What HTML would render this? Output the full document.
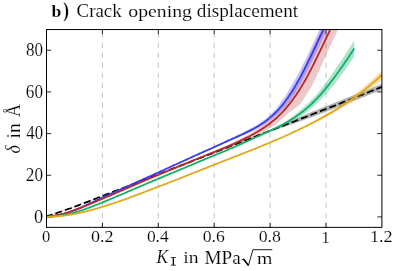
<!DOCTYPE html>
<html><head><meta charset="utf-8"><style>
html,body{margin:0;padding:0;background:#fff;}
body{width:396px;height:271px;overflow:hidden;position:relative;font-family:"Liberation Serif",serif;color:#000;}
svg{position:absolute;left:0;top:0;will-change:transform;opacity:0.999;}
text{font-family:"Liberation Serif",serif;fill:#000;font-kerning:none;stroke:#fff;stroke-width:0.8px;}
</style></head><body>
<svg width="396" height="271" viewBox="0 0 396 271">
<defs><clipPath id="c"><rect x="46.5" y="29.55" width="335.4" height="197.79999999999998"/></clipPath></defs>
<g stroke="#c2c2c2" stroke-width="1" stroke-dasharray="5.1,4.9" stroke-dashoffset="6.8" fill="none">
<line x1="102.4" y1="29.55" x2="102.4" y2="227.35"/>
<line x1="158.3" y1="29.55" x2="158.3" y2="227.35"/>
<line x1="214.2" y1="29.55" x2="214.2" y2="227.35"/>
<line x1="270.1" y1="29.55" x2="270.1" y2="227.35"/>
<line x1="326.0" y1="29.55" x2="326.0" y2="227.35"/>
</g>
<g stroke="#000" stroke-width="0.85">
<line x1="102.4" y1="227.35" x2="102.4" y2="222.75"/><line x1="102.4" y1="29.55" x2="102.4" y2="34.15"/>
<line x1="158.3" y1="227.35" x2="158.3" y2="222.75"/><line x1="158.3" y1="29.55" x2="158.3" y2="34.15"/>
<line x1="214.2" y1="227.35" x2="214.2" y2="222.75"/><line x1="214.2" y1="29.55" x2="214.2" y2="34.15"/>
<line x1="270.1" y1="227.35" x2="270.1" y2="222.75"/><line x1="270.1" y1="29.55" x2="270.1" y2="34.15"/>
<line x1="326.0" y1="227.35" x2="326.0" y2="222.75"/><line x1="326.0" y1="29.55" x2="326.0" y2="34.15"/>
<line x1="46.5" y1="216.90" x2="51.1" y2="216.90"/><line x1="381.9" y1="216.90" x2="377.29999999999995" y2="216.90"/>
<line x1="46.5" y1="175.24" x2="51.1" y2="175.24"/><line x1="381.9" y1="175.24" x2="377.29999999999995" y2="175.24"/>
<line x1="46.5" y1="133.58" x2="51.1" y2="133.58"/><line x1="381.9" y1="133.58" x2="377.29999999999995" y2="133.58"/>
<line x1="46.5" y1="91.92" x2="51.1" y2="91.92"/><line x1="381.9" y1="91.92" x2="377.29999999999995" y2="91.92"/>
<line x1="46.5" y1="50.26" x2="51.1" y2="50.26"/><line x1="381.9" y1="50.26" x2="377.29999999999995" y2="50.26"/>
</g>
<g clip-path="url(#c)" fill="none" stroke-linejoin="round" stroke-linecap="butt">
<path d="M46.6,216.1 L48.7,215.4 L50.8,214.7 L52.9,214.0 L55.1,213.3 L57.2,212.6 L59.3,211.9 L61.4,211.2 L63.5,210.4 L65.6,209.7 L67.8,208.9 L69.9,208.2 L72.0,207.4 L74.1,206.6 L76.2,205.8 L78.3,205.0 L80.4,204.2 L82.6,203.4 L84.7,202.6 L86.8,201.8 L88.9,201.0 L91.0,200.2 L93.1,199.3 L95.2,198.5 L97.4,197.7 L99.5,196.9 L101.6,196.0 L103.7,195.2 L105.8,194.4 L107.9,193.6 L110.1,192.8 L112.2,191.9 L114.3,191.1 L116.4,190.3 L118.5,189.5 L120.6,188.6 L122.7,187.8 L124.9,187.0 L127.0,186.2 L129.1,185.4 L131.2,184.5 L133.3,183.7 L135.4,182.9 L137.5,182.1 L139.7,181.2 L141.8,180.4 L143.9,179.6 L146.0,178.8 L148.1,177.9 L150.2,177.1 L152.4,176.3 L154.5,175.5 L156.6,174.7 L158.7,173.8 L160.8,173.0 L162.9,172.2 L165.0,171.4 L167.2,170.5 L169.3,169.7 L171.4,168.9 L173.5,168.1 L175.6,167.2 L177.7,166.4 L179.9,165.6 L182.0,164.8 L184.1,164.0 L186.2,163.1 L188.3,162.3 L190.4,161.5 L192.5,160.7 L194.7,159.8 L196.8,159.0 L198.9,158.2 L201.0,157.4 L203.1,156.5 L205.2,155.7 L207.3,154.9 L209.5,154.1 L211.6,153.3 L213.7,152.4 L215.8,151.6 L217.9,150.8 L220.0,150.0 L222.2,149.1 L224.3,148.3 L226.4,147.5 L228.5,146.7 L230.6,145.8 L232.7,145.0 L234.8,144.1 L237.0,143.3 L239.1,142.4 L241.2,141.5 L243.3,140.7 L245.4,139.8 L247.5,139.0 L249.6,138.1 L251.8,137.2 L253.9,136.4 L256.0,135.5 L258.1,134.7 L260.2,133.8 L262.3,132.9 L264.5,132.1 L266.6,131.2 L268.7,130.4 L270.8,129.5 L272.9,128.6 L275.0,127.6 L277.1,126.7 L279.3,125.8 L281.4,124.9 L283.5,124.0 L285.6,123.0 L287.7,122.1 L289.8,121.2 L292.0,120.3 L294.1,119.4 L296.2,118.5 L298.3,117.6 L300.4,116.7 L302.5,115.8 L304.6,114.9 L306.8,113.9 L308.9,113.0 L311.0,112.2 L313.1,111.3 L315.2,110.5 L317.3,109.7 L319.4,108.8 L321.6,108.0 L323.7,107.1 L325.8,106.3 L327.9,105.4 L330.0,104.6 L332.1,103.8 L334.3,102.9 L336.4,102.1 L338.5,101.2 L340.6,100.4 L342.7,99.5 L344.8,98.7 L346.9,97.8 L349.1,97.0 L351.2,96.2 L353.3,95.3 L355.4,94.5 L357.5,93.6 L359.6,92.8 L361.7,91.9 L363.9,91.1 L366.0,90.2 L368.1,89.4 L370.2,88.5 L372.3,87.7 L374.4,86.8 L376.6,86.0 L378.7,85.1 L380.8,84.3 L382.9,83.4 L382.9,89.4 L380.8,90.3 L378.7,91.1 L376.6,92.0 L374.4,92.8 L372.3,93.6 L370.2,94.5 L368.1,95.3 L366.0,96.2 L363.9,97.0 L361.7,97.8 L359.6,98.7 L357.5,99.5 L355.4,100.3 L353.3,101.2 L351.2,102.0 L349.1,102.8 L346.9,103.7 L344.8,104.5 L342.7,105.3 L340.6,106.2 L338.5,107.0 L336.4,107.8 L334.3,108.6 L332.1,109.5 L330.0,110.3 L327.9,111.1 L325.8,111.9 L323.7,112.7 L321.6,113.5 L319.4,114.3 L317.3,115.1 L315.2,116.0 L313.1,116.8 L311.0,117.6 L308.9,118.3 L306.8,119.1 L304.6,119.8 L302.5,120.6 L300.4,121.3 L298.3,122.0 L296.2,122.8 L294.1,123.5 L292.0,124.3 L289.8,125.0 L287.7,125.7 L285.6,126.5 L283.5,127.2 L281.4,127.9 L279.3,128.6 L277.1,129.4 L275.0,130.1 L272.9,130.8 L270.8,131.5 L268.7,132.3 L266.6,133.1 L264.5,133.9 L262.3,134.7 L260.2,135.5 L258.1,136.2 L256.0,137.0 L253.9,137.8 L251.8,138.6 L249.6,139.4 L247.5,140.2 L245.4,141.0 L243.3,141.7 L241.2,142.5 L239.1,143.3 L237.0,144.1 L234.8,144.9 L232.7,145.7 L230.6,146.5 L228.5,147.3 L226.4,148.1 L224.3,148.9 L222.2,149.7 L220.0,150.6 L217.9,151.4 L215.8,152.2 L213.7,153.0 L211.6,153.9 L209.5,154.7 L207.3,155.5 L205.2,156.3 L203.1,157.1 L201.0,158.0 L198.9,158.8 L196.8,159.6 L194.7,160.4 L192.5,161.3 L190.4,162.1 L188.3,162.9 L186.2,163.7 L184.1,164.6 L182.0,165.4 L179.9,166.2 L177.7,167.0 L175.6,167.8 L173.5,168.7 L171.4,169.5 L169.3,170.3 L167.2,171.1 L165.0,172.0 L162.9,172.8 L160.8,173.6 L158.7,174.4 L156.6,175.3 L154.5,176.1 L152.4,176.9 L150.2,177.7 L148.1,178.5 L146.0,179.4 L143.9,180.2 L141.8,181.0 L139.7,181.8 L137.5,182.7 L135.4,183.5 L133.3,184.3 L131.2,185.1 L129.1,186.0 L127.0,186.8 L124.9,187.6 L122.7,188.4 L120.6,189.2 L118.5,190.1 L116.4,190.9 L114.3,191.7 L112.2,192.5 L110.1,193.4 L107.9,194.2 L105.8,195.0 L103.7,195.8 L101.6,196.6 L99.5,197.5 L97.4,198.3 L95.2,199.1 L93.1,199.9 L91.0,200.8 L88.9,201.6 L86.8,202.4 L84.7,203.2 L82.6,204.0 L80.4,204.8 L78.3,205.6 L76.2,206.4 L74.1,207.2 L72.0,208.0 L69.9,208.8 L67.8,209.5 L65.6,210.3 L63.5,211.0 L61.4,211.8 L59.3,212.5 L57.2,213.2 L55.1,213.9 L52.9,214.6 L50.8,215.3 L48.7,216.0 L46.6,216.7Z" fill="#000" fill-opacity="0.3" stroke="none"/>
<path d="M46.6,216.4 L48.7,215.7 L50.8,215.0 L52.9,214.3 L55.1,213.6 L57.2,212.9 L59.3,212.2 L61.4,211.5 L63.5,210.7 L65.6,210.0 L67.8,209.2 L69.9,208.5 L72.0,207.7 L74.1,206.9 L76.2,206.1 L78.3,205.3 L80.4,204.5 L82.6,203.7 L84.7,202.9 L86.8,202.1 L88.9,201.3 L91.0,200.5 L93.1,199.6 L95.2,198.8 L97.4,198.0 L99.5,197.2 L101.6,196.3 L103.7,195.5 L105.8,194.7 L107.9,193.9 L110.1,193.1 L112.2,192.2 L114.3,191.4 L116.4,190.6 L118.5,189.8 L120.6,188.9 L122.7,188.1 L124.9,187.3 L127.0,186.5 L129.1,185.7 L131.2,184.8 L133.3,184.0 L135.4,183.2 L137.5,182.4 L139.7,181.5 L141.8,180.7 L143.9,179.9 L146.0,179.1 L148.1,178.2 L150.2,177.4 L152.4,176.6 L154.5,175.8 L156.6,175.0 L158.7,174.1 L160.8,173.3 L162.9,172.5 L165.0,171.7 L167.2,170.8 L169.3,170.0 L171.4,169.2 L173.5,168.4 L175.6,167.5 L177.7,166.7 L179.9,165.9 L182.0,165.1 L184.1,164.3 L186.2,163.4 L188.3,162.6 L190.4,161.8 L192.5,161.0 L194.7,160.1 L196.8,159.3 L198.9,158.5 L201.0,157.7 L203.1,156.8 L205.2,156.0 L207.3,155.2 L209.5,154.4 L211.6,153.6 L213.7,152.7 L215.8,151.9 L217.9,151.1 L220.0,150.3 L222.2,149.4 L224.3,148.6 L226.4,147.8 L228.5,147.0 L230.6,146.1 L232.7,145.3 L234.8,144.5 L237.0,143.7 L239.1,142.9 L241.2,142.0 L243.3,141.2 L245.4,140.4 L247.5,139.6 L249.6,138.7 L251.8,137.9 L253.9,137.1 L256.0,136.3 L258.1,135.4 L260.2,134.6 L262.3,133.8 L264.5,133.0 L266.6,132.2 L268.7,131.3 L270.8,130.5 L272.9,129.7 L275.0,128.9 L277.1,128.0 L279.3,127.2 L281.4,126.4 L283.5,125.6 L285.6,124.7 L287.7,123.9 L289.8,123.1 L292.0,122.3 L294.1,121.5 L296.2,120.6 L298.3,119.8 L300.4,119.0 L302.5,118.2 L304.6,117.3 L306.8,116.5 L308.9,115.7 L311.0,114.9 L313.1,114.0 L315.2,113.2 L317.3,112.4 L319.4,111.6 L321.6,110.7 L323.7,109.9 L325.8,109.1 L327.9,108.3 L330.0,107.4 L332.1,106.6 L334.3,105.8 L336.4,104.9 L338.5,104.1 L340.6,103.3 L342.7,102.4 L344.8,101.6 L346.9,100.8 L349.1,99.9 L351.2,99.1 L353.3,98.2 L355.4,97.4 L357.5,96.6 L359.6,95.7 L361.7,94.9 L363.9,94.0 L366.0,93.2 L368.1,92.4 L370.2,91.5 L372.3,90.7 L374.4,89.8 L376.6,89.0 L378.7,88.1 L380.8,87.3 L382.9,86.4" stroke="#000" stroke-width="1.8" stroke-dasharray="7.1,3.03" stroke-dashoffset="0.93"/>
<path d="M46.6,216.8 L47.4,216.8 L48.3,216.8 L49.1,216.7 L50.0,216.7 L50.8,216.7 L51.7,216.7 L52.5,216.6 L53.3,216.6 L54.2,216.5 L55.0,216.5 L55.9,216.4 L56.7,216.3 L57.6,216.3 L58.4,216.2 L59.2,216.1 L60.1,216.0 L60.9,216.0 L61.8,215.9 L62.6,215.8 L63.5,215.7 L64.3,215.6 L65.1,215.5 L66.0,215.3 L66.8,215.2 L67.7,215.1 L68.5,215.0 L69.4,214.8 L70.2,214.7 L71.1,214.6 L71.9,214.4 L72.7,214.3 L73.6,214.1 L74.4,213.9 L75.3,213.8 L76.1,213.6 L77.0,213.4 L77.8,213.3 L78.6,213.1 L79.5,212.9 L80.3,212.7 L81.2,212.5 L82.0,212.3 L82.9,212.1 L83.7,211.9 L84.5,211.7 L85.4,211.5 L86.2,211.3 L87.1,211.1 L87.9,210.9 L88.8,210.7 L89.6,210.5 L90.4,210.2 L91.3,210.0 L92.1,209.8 L93.0,209.6 L93.8,209.3 L94.7,209.1 L95.5,208.9 L96.3,208.6 L97.2,208.4 L98.0,208.1 L98.9,207.9 L99.7,207.6 L100.6,207.4 L101.4,207.1 L102.2,206.9 L103.1,206.6 L103.9,206.4 L104.8,206.1 L105.6,205.8 L106.5,205.6 L107.3,205.3 L108.1,205.0 L109.0,204.8 L109.8,204.5 L110.7,204.2 L111.5,204.0 L112.4,203.7 L113.2,203.4 L114.0,203.1 L114.9,202.8 L115.7,202.6 L116.6,202.3 L117.4,202.0 L118.3,201.7 L119.1,201.4 L120.0,201.1 L120.8,200.8 L121.6,200.5 L122.5,200.2 L123.3,199.9 L124.2,199.6 L125.0,199.3 L125.9,199.0 L126.7,198.7 L127.5,198.4 L128.4,198.1 L129.2,197.8 L130.1,197.5 L130.9,197.1 L131.8,196.8 L132.6,196.5 L133.4,196.2 L134.3,195.9 L135.1,195.6 L136.0,195.2 L136.8,194.9 L137.7,194.6 L138.5,194.3 L139.3,193.9 L140.2,193.6 L141.0,193.3 L141.9,193.0 L142.7,192.6 L143.6,192.3 L144.4,192.0 L145.2,191.7 L146.1,191.3 L146.9,191.0 L147.8,190.7 L148.6,190.4 L149.5,190.1 L150.3,189.7 L151.1,189.4 L152.0,189.1 L152.8,188.8 L153.7,188.4 L154.5,188.1 L155.4,187.8 L156.2,187.5 L157.0,187.1 L157.9,186.8 L158.7,186.5 L159.6,186.2 L160.4,185.9 L161.3,185.5 L162.1,185.2 L162.9,184.9 L163.8,184.6 L164.6,184.3 L165.5,183.9 L166.3,183.6 L167.2,183.3 L168.0,183.0 L168.9,182.6 L169.7,182.3 L170.5,182.0 L171.4,181.7 L172.2,181.4 L173.1,181.0 L173.9,180.7 L174.8,180.4 L175.6,180.0 L176.4,179.7 L177.3,179.4 L178.1,179.1 L179.0,178.7 L179.8,178.4 L180.7,178.1 L181.5,177.7 L182.3,177.4 L183.2,177.1 L184.0,176.7 L184.9,176.4 L185.7,176.1 L186.6,175.7 L187.4,175.4 L188.2,175.0 L189.1,174.7 L189.9,174.4 L190.8,174.0 L191.6,173.7 L192.5,173.4 L193.3,173.0 L194.1,172.7 L195.0,172.3 L195.8,172.0 L196.7,171.7 L197.5,171.3 L198.4,171.0 L199.2,170.7 L200.0,170.3 L200.9,170.0 L201.7,169.6 L202.6,169.3 L203.4,169.0 L204.3,168.6 L205.1,168.3 L205.9,168.0 L206.8,167.6 L207.6,167.3 L208.5,167.0 L209.3,166.6 L210.2,166.3 L211.0,166.0 L211.8,165.6 L212.7,165.3 L213.5,165.0 L214.4,164.7 L215.2,164.3 L216.1,164.0 L216.9,163.7 L217.8,163.3 L218.6,163.0 L219.4,162.7 L220.3,162.4 L221.1,162.0 L222.0,161.7 L222.8,161.4 L223.7,161.0 L224.5,160.7 L225.3,160.4 L226.2,160.1 L227.0,159.7 L227.9,159.4 L228.7,159.1 L229.6,158.7 L230.4,158.4 L231.2,158.1 L232.1,157.8 L232.9,157.4 L233.8,157.1 L234.6,156.8 L235.5,156.4 L236.3,156.1 L237.1,155.8 L238.0,155.4 L238.8,155.1 L239.7,154.8 L240.5,154.4 L241.4,154.1 L242.2,153.8 L243.0,153.4 L243.9,153.1 L244.7,152.8 L245.6,152.4 L246.4,152.1 L247.3,151.8 L248.1,151.4 L248.9,151.1 L249.8,150.8 L250.6,150.4 L251.5,150.1 L252.3,149.7 L253.2,149.4 L254.0,149.1 L254.8,148.7 L255.7,148.4 L256.5,148.0 L257.4,147.7 L258.2,147.4 L259.1,147.0 L259.9,146.7 L260.7,146.3 L261.6,146.0 L262.4,145.6 L263.3,145.3 L264.1,145.0 L265.0,144.6 L265.8,144.3 L266.7,143.9 L267.5,143.6 L268.3,143.2 L269.2,142.9 L270.0,142.5 L270.9,142.2 L271.7,141.8 L272.6,141.5 L273.4,141.1 L274.2,140.7 L275.1,140.4 L275.9,140.0 L276.8,139.7 L277.6,139.3 L278.5,138.9 L279.3,138.6 L280.1,138.2 L281.0,137.8 L281.8,137.5 L282.7,137.1 L283.5,136.7 L284.4,136.4 L285.2,136.0 L286.0,135.6 L286.9,135.2 L287.7,134.8 L288.6,134.5 L289.4,134.1 L290.3,133.7 L291.1,133.3 L291.9,132.8 L292.8,132.4 L293.6,132.0 L294.5,131.6 L295.3,131.1 L296.2,130.7 L297.0,130.3 L297.8,129.8 L298.7,129.4 L299.5,129.0 L300.4,128.5 L301.2,128.1 L302.1,127.7 L302.9,127.2 L303.7,126.8 L304.6,126.3 L305.4,125.9 L306.3,125.4 L307.1,125.0 L308.0,124.5 L308.8,124.0 L309.6,123.6 L310.5,123.1 L311.3,122.7 L312.2,122.2 L313.0,121.7 L313.9,121.2 L314.7,120.8 L315.6,120.3 L316.4,119.8 L317.2,119.3 L318.1,118.9 L318.9,118.4 L319.8,117.9 L320.6,117.4 L321.5,116.9 L322.3,116.4 L323.1,115.9 L324.0,115.4 L324.8,114.9 L325.7,114.4 L326.5,113.9 L327.4,113.4 L328.2,112.8 L329.0,112.3 L329.9,111.8 L330.7,111.3 L331.6,110.7 L332.4,110.2 L333.3,109.7 L334.1,109.1 L334.9,108.6 L335.8,108.0 L336.6,107.5 L337.5,106.9 L338.3,106.3 L339.2,105.8 L340.0,105.2 L340.8,104.6 L341.7,104.0 L342.5,103.5 L343.4,102.9 L344.2,102.3 L345.1,101.7 L345.9,101.1 L346.7,100.4 L347.6,99.8 L348.4,99.2 L349.3,98.6 L350.1,98.0 L351.0,97.3 L351.8,96.7 L352.6,96.0 L353.5,95.4 L354.3,94.7 L355.2,94.1 L356.0,93.4 L356.9,92.7 L357.7,92.0 L358.5,91.4 L359.4,90.7 L360.2,90.0 L361.1,89.3 L361.9,88.6 L362.8,87.9 L363.6,87.1 L364.5,86.4 L365.3,85.7 L366.1,85.0 L367.0,84.2 L367.8,83.5 L368.7,82.7 L369.5,82.0 L370.4,81.2 L371.2,80.4 L372.0,79.7 L372.9,78.9 L373.7,78.1 L374.6,77.3 L375.4,76.5 L376.3,75.7 L377.1,74.9 L377.9,74.1 L378.8,73.3 L379.6,72.5 L380.5,71.7 L381.3,70.8 L382.2,70.0 L383.0,69.2 L383.0,78.7 L382.2,79.4 L381.3,80.1 L380.5,80.8 L379.6,81.5 L378.8,82.2 L377.9,82.9 L377.1,83.6 L376.3,84.3 L375.4,84.9 L374.6,85.6 L373.7,86.3 L372.9,86.9 L372.0,87.6 L371.2,88.3 L370.4,88.9 L369.5,89.5 L368.7,90.2 L367.8,90.8 L367.0,91.4 L366.1,92.1 L365.3,92.7 L364.5,93.3 L363.6,93.9 L362.8,94.5 L361.9,95.1 L361.1,95.7 L360.2,96.3 L359.4,96.9 L358.5,97.5 L357.7,98.1 L356.9,98.6 L356.0,99.2 L355.2,99.8 L354.3,100.3 L353.5,100.9 L352.6,101.4 L351.8,102.0 L351.0,102.5 L350.1,103.1 L349.3,103.6 L348.4,104.1 L347.6,104.7 L346.7,105.2 L345.9,105.7 L345.1,106.2 L344.2,106.7 L343.4,107.2 L342.5,107.7 L341.7,108.2 L340.8,108.7 L340.0,109.2 L339.2,109.7 L338.3,110.2 L337.5,110.7 L336.6,111.2 L335.8,111.7 L334.9,112.1 L334.1,112.6 L333.3,113.1 L332.4,113.5 L331.6,114.0 L330.7,114.4 L329.9,114.9 L329.0,115.4 L328.2,115.8 L327.4,116.2 L326.5,116.7 L325.7,117.1 L324.8,117.6 L324.0,118.0 L323.1,118.4 L322.3,118.9 L321.5,119.3 L320.6,119.7 L319.8,120.1 L318.9,120.6 L318.1,121.0 L317.2,121.4 L316.4,121.8 L315.6,122.2 L314.7,122.6 L313.9,123.0 L313.0,123.4 L312.2,123.8 L311.3,124.3 L310.5,124.7 L309.6,125.0 L308.8,125.4 L308.0,125.8 L307.1,126.2 L306.3,126.6 L305.4,127.0 L304.6,127.4 L303.7,127.8 L302.9,128.2 L302.1,128.5 L301.2,128.9 L300.4,129.3 L299.5,129.7 L298.7,130.1 L297.8,130.4 L297.0,130.8 L296.2,131.2 L295.3,131.5 L294.5,131.9 L293.6,132.3 L292.8,132.6 L291.9,133.0 L291.1,133.3 L290.3,133.7 L289.4,134.1 L288.6,134.5 L287.7,134.8 L286.9,135.2 L286.0,135.6 L285.2,136.0 L284.4,136.4 L283.5,136.7 L282.7,137.1 L281.8,137.5 L281.0,137.8 L280.1,138.2 L279.3,138.6 L278.5,138.9 L277.6,139.3 L276.8,139.7 L275.9,140.0 L275.1,140.4 L274.2,140.7 L273.4,141.1 L272.6,141.5 L271.7,141.8 L270.9,142.2 L270.0,142.5 L269.2,142.9 L268.3,143.2 L267.5,143.6 L266.7,143.9 L265.8,144.3 L265.0,144.6 L264.1,145.0 L263.3,145.3 L262.4,145.6 L261.6,146.0 L260.7,146.3 L259.9,146.7 L259.1,147.0 L258.2,147.4 L257.4,147.7 L256.5,148.0 L255.7,148.4 L254.8,148.7 L254.0,149.1 L253.2,149.4 L252.3,149.7 L251.5,150.1 L250.6,150.4 L249.8,150.8 L248.9,151.1 L248.1,151.4 L247.3,151.8 L246.4,152.1 L245.6,152.4 L244.7,152.8 L243.9,153.1 L243.0,153.4 L242.2,153.8 L241.4,154.1 L240.5,154.4 L239.7,154.8 L238.8,155.1 L238.0,155.4 L237.1,155.8 L236.3,156.1 L235.5,156.4 L234.6,156.8 L233.8,157.1 L232.9,157.4 L232.1,157.8 L231.2,158.1 L230.4,158.4 L229.6,158.7 L228.7,159.1 L227.9,159.4 L227.0,159.7 L226.2,160.1 L225.3,160.4 L224.5,160.7 L223.7,161.0 L222.8,161.4 L222.0,161.7 L221.1,162.0 L220.3,162.4 L219.4,162.7 L218.6,163.0 L217.8,163.3 L216.9,163.7 L216.1,164.0 L215.2,164.3 L214.4,164.7 L213.5,165.0 L212.7,165.3 L211.8,165.6 L211.0,166.0 L210.2,166.3 L209.3,166.6 L208.5,167.0 L207.6,167.3 L206.8,167.6 L205.9,168.0 L205.1,168.3 L204.3,168.6 L203.4,169.0 L202.6,169.3 L201.7,169.6 L200.9,170.0 L200.0,170.3 L199.2,170.7 L198.4,171.0 L197.5,171.3 L196.7,171.7 L195.8,172.0 L195.0,172.3 L194.1,172.7 L193.3,173.0 L192.5,173.4 L191.6,173.7 L190.8,174.0 L189.9,174.4 L189.1,174.7 L188.2,175.0 L187.4,175.4 L186.6,175.7 L185.7,176.1 L184.9,176.4 L184.0,176.7 L183.2,177.1 L182.3,177.4 L181.5,177.7 L180.7,178.1 L179.8,178.4 L179.0,178.7 L178.1,179.1 L177.3,179.4 L176.4,179.7 L175.6,180.0 L174.8,180.4 L173.9,180.7 L173.1,181.0 L172.2,181.4 L171.4,181.7 L170.5,182.0 L169.7,182.3 L168.9,182.6 L168.0,183.0 L167.2,183.3 L166.3,183.6 L165.5,183.9 L164.6,184.3 L163.8,184.6 L162.9,184.9 L162.1,185.2 L161.3,185.5 L160.4,185.9 L159.6,186.2 L158.7,186.5 L157.9,186.8 L157.0,187.1 L156.2,187.5 L155.4,187.8 L154.5,188.1 L153.7,188.4 L152.8,188.8 L152.0,189.1 L151.1,189.4 L150.3,189.7 L149.5,190.1 L148.6,190.4 L147.8,190.7 L146.9,191.0 L146.1,191.3 L145.2,191.7 L144.4,192.0 L143.6,192.3 L142.7,192.6 L141.9,193.0 L141.0,193.3 L140.2,193.6 L139.3,193.9 L138.5,194.3 L137.7,194.6 L136.8,194.9 L136.0,195.2 L135.1,195.6 L134.3,195.9 L133.4,196.2 L132.6,196.5 L131.8,196.8 L130.9,197.1 L130.1,197.5 L129.2,197.8 L128.4,198.1 L127.5,198.4 L126.7,198.7 L125.9,199.0 L125.0,199.3 L124.2,199.6 L123.3,199.9 L122.5,200.2 L121.6,200.5 L120.8,200.8 L120.0,201.1 L119.1,201.4 L118.3,201.7 L117.4,202.0 L116.6,202.3 L115.7,202.6 L114.9,202.8 L114.0,203.1 L113.2,203.4 L112.4,203.7 L111.5,204.0 L110.7,204.2 L109.8,204.5 L109.0,204.8 L108.1,205.0 L107.3,205.3 L106.5,205.6 L105.6,205.8 L104.8,206.1 L103.9,206.4 L103.1,206.6 L102.2,206.9 L101.4,207.1 L100.6,207.4 L99.7,207.6 L98.9,207.9 L98.0,208.1 L97.2,208.4 L96.3,208.6 L95.5,208.9 L94.7,209.1 L93.8,209.3 L93.0,209.6 L92.1,209.8 L91.3,210.0 L90.4,210.2 L89.6,210.5 L88.8,210.7 L87.9,210.9 L87.1,211.1 L86.2,211.3 L85.4,211.5 L84.5,211.7 L83.7,211.9 L82.9,212.1 L82.0,212.3 L81.2,212.5 L80.3,212.7 L79.5,212.9 L78.6,213.1 L77.8,213.3 L77.0,213.4 L76.1,213.6 L75.3,213.8 L74.4,213.9 L73.6,214.1 L72.7,214.3 L71.9,214.4 L71.1,214.6 L70.2,214.7 L69.4,214.8 L68.5,215.0 L67.7,215.1 L66.8,215.2 L66.0,215.3 L65.1,215.5 L64.3,215.6 L63.5,215.7 L62.6,215.8 L61.8,215.9 L60.9,216.0 L60.1,216.0 L59.2,216.1 L58.4,216.2 L57.6,216.3 L56.7,216.3 L55.9,216.4 L55.0,216.5 L54.2,216.5 L53.3,216.6 L52.5,216.6 L51.7,216.7 L50.8,216.7 L50.0,216.7 L49.1,216.7 L48.3,216.8 L47.4,216.8 L46.6,216.8Z" fill="#e1a81b" fill-opacity="0.35" stroke="none"/>
<path d="M46.6,216.8 L47.4,216.8 L48.1,216.8 L48.9,216.7 L49.7,216.7 L50.5,216.7 L51.2,216.6 L52.0,216.6 L52.8,216.5 L53.5,216.4 L54.3,216.4 L55.1,216.3 L55.9,216.2 L56.6,216.1 L57.4,216.0 L58.2,215.9 L58.9,215.8 L59.7,215.7 L60.5,215.6 L61.2,215.5 L62.0,215.3 L62.8,215.2 L63.6,215.1 L64.3,214.9 L65.1,214.8 L65.9,214.6 L66.6,214.4 L67.4,214.3 L68.2,214.1 L69.0,213.9 L69.7,213.7 L70.5,213.5 L71.3,213.4 L72.0,213.2 L72.8,212.9 L73.6,212.7 L74.4,212.5 L75.1,212.3 L75.9,212.1 L76.7,211.9 L77.4,211.6 L78.2,211.4 L79.0,211.1 L79.7,210.9 L80.5,210.7 L81.3,210.4 L82.1,210.1 L82.8,209.9 L83.6,209.6 L84.4,209.4 L85.1,209.1 L85.9,208.8 L86.7,208.5 L87.5,208.3 L88.2,208.0 L89.0,207.7 L89.8,207.4 L90.5,207.1 L91.3,206.8 L92.1,206.6 L92.9,206.3 L93.6,206.0 L94.4,205.7 L95.2,205.4 L95.9,205.1 L96.7,204.8 L97.5,204.4 L98.3,204.1 L99.0,203.8 L99.8,203.5 L100.6,203.2 L101.3,202.9 L102.1,202.6 L102.9,202.3 L103.6,201.9 L104.4,201.6 L105.2,201.3 L106.0,201.0 L106.7,200.7 L107.5,200.3 L108.3,200.0 L109.0,199.7 L109.8,199.4 L110.6,199.1 L111.4,198.7 L112.1,198.4 L112.9,198.1 L113.7,197.8 L114.4,197.4 L115.2,197.1 L116.0,196.8 L116.8,196.4 L117.5,196.1 L118.3,195.8 L119.1,195.5 L119.8,195.1 L120.6,194.8 L121.4,194.5 L122.2,194.1 L122.9,193.8 L123.7,193.5 L124.5,193.1 L125.2,192.8 L126.0,192.5 L126.8,192.2 L127.5,191.8 L128.3,191.5 L129.1,191.2 L129.9,190.8 L130.6,190.5 L131.4,190.2 L132.2,189.8 L132.9,189.5 L133.7,189.2 L134.5,188.8 L135.3,188.5 L136.0,188.2 L136.8,187.8 L137.6,187.5 L138.3,187.2 L139.1,186.9 L139.9,186.5 L140.7,186.2 L141.4,185.9 L142.2,185.5 L143.0,185.2 L143.7,184.9 L144.5,184.5 L145.3,184.2 L146.0,183.9 L146.8,183.6 L147.6,183.2 L148.4,182.9 L149.1,182.6 L149.9,182.3 L150.7,181.9 L151.4,181.6 L152.2,181.3 L153.0,181.0 L153.8,180.6 L154.5,180.3 L155.3,180.0 L156.1,179.7 L156.8,179.4 L157.6,179.0 L158.4,178.7 L159.2,178.4 L159.9,178.1 L160.7,177.8 L161.5,177.4 L162.2,177.1 L163.0,176.8 L163.8,176.5 L164.6,176.2 L165.3,175.8 L166.1,175.5 L166.9,175.2 L167.6,174.9 L168.4,174.6 L169.2,174.2 L169.9,173.9 L170.7,173.6 L171.5,173.3 L172.3,173.0 L173.0,172.6 L173.8,172.3 L174.6,172.0 L175.3,171.7 L176.1,171.3 L176.9,171.0 L177.7,170.7 L178.4,170.4 L179.2,170.1 L180.0,169.7 L180.7,169.4 L181.5,169.1 L182.3,168.8 L183.1,168.4 L183.8,168.1 L184.6,167.8 L185.4,167.5 L186.1,167.1 L186.9,166.8 L187.7,166.5 L188.5,166.1 L189.2,165.8 L190.0,165.5 L190.8,165.2 L191.5,164.8 L192.3,164.5 L193.1,164.2 L193.8,163.9 L194.6,163.5 L195.4,163.2 L196.2,162.9 L196.9,162.6 L197.7,162.3 L198.5,161.9 L199.2,161.6 L200.0,161.3 L200.8,161.0 L201.6,160.6 L202.3,160.3 L203.1,160.0 L203.9,159.7 L204.6,159.4 L205.4,159.0 L206.2,158.7 L207.0,158.4 L207.7,158.1 L208.5,157.8 L209.3,157.4 L210.0,157.1 L210.8,156.8 L211.6,156.5 L212.3,156.2 L213.1,155.9 L213.9,155.5 L214.7,155.2 L215.4,154.9 L216.2,154.6 L217.0,154.3 L217.7,154.0 L218.5,153.6 L219.3,153.3 L220.1,153.0 L220.8,152.7 L221.6,152.4 L222.4,152.0 L223.1,151.7 L223.9,151.4 L224.7,151.1 L225.5,150.8 L226.2,150.4 L227.0,150.1 L227.8,149.8 L228.5,149.5 L229.3,149.1 L230.1,148.8 L230.9,148.5 L231.6,148.2 L232.4,147.8 L233.2,147.5 L233.9,147.2 L234.7,146.8 L235.5,146.5 L236.2,146.1 L237.0,145.8 L237.8,145.5 L238.6,145.1 L239.3,144.8 L240.1,144.4 L240.9,144.1 L241.6,143.8 L242.4,143.4 L243.2,143.1 L244.0,142.7 L244.7,142.4 L245.5,142.0 L246.3,141.7 L247.0,141.3 L247.8,141.0 L248.6,140.6 L249.4,140.3 L250.1,139.9 L250.9,139.6 L251.7,139.2 L252.4,138.8 L253.2,138.5 L254.0,138.1 L254.8,137.8 L255.5,137.4 L256.3,137.0 L257.1,136.6 L257.8,136.3 L258.6,135.9 L259.4,135.5 L260.1,135.1 L260.9,134.7 L261.7,134.3 L262.5,134.0 L263.2,133.6 L264.0,133.2 L264.8,132.8 L265.5,132.4 L266.3,132.0 L267.1,131.6 L267.9,131.3 L268.6,130.9 L269.4,130.5 L270.2,130.1 L270.9,129.7 L271.7,129.3 L272.5,128.9 L273.3,128.5 L274.0,128.1 L274.8,127.7 L275.6,127.3 L276.3,126.9 L277.1,126.4 L277.9,126.0 L278.6,125.6 L279.4,125.2 L280.2,124.7 L281.0,124.3 L281.7,123.9 L282.5,123.4 L283.3,123.0 L284.0,122.5 L284.8,122.0 L285.6,121.5 L286.4,121.0 L287.1,120.5 L287.9,119.9 L288.7,119.4 L289.4,118.8 L290.2,118.3 L291.0,117.7 L291.8,117.1 L292.5,116.5 L293.3,115.9 L294.1,115.3 L294.8,114.7 L295.6,114.1 L296.4,113.5 L297.2,112.8 L297.9,112.2 L298.7,111.5 L299.5,110.8 L300.2,110.2 L301.0,109.5 L301.8,108.9 L302.5,108.3 L303.3,107.6 L304.1,106.9 L304.9,106.2 L305.6,105.5 L306.4,104.8 L307.2,104.1 L307.9,103.4 L308.7,102.6 L309.5,101.9 L310.3,101.1 L311.0,100.3 L311.8,99.5 L312.6,98.7 L313.3,97.9 L314.1,97.1 L314.9,96.2 L315.7,95.4 L316.4,94.5 L317.2,93.6 L318.0,92.7 L318.7,91.8 L319.5,90.9 L320.3,89.9 L321.1,89.0 L321.8,88.0 L322.6,87.0 L323.4,86.0 L324.1,85.0 L324.9,83.9 L325.7,82.9 L326.4,81.9 L327.2,80.8 L328.0,79.7 L328.8,78.6 L329.5,77.6 L330.3,76.5 L331.1,75.3 L331.8,74.2 L332.6,73.1 L333.4,72.0 L334.2,70.9 L334.9,69.8 L335.7,68.7 L336.5,67.6 L337.2,66.4 L338.0,65.3 L338.8,64.2 L339.6,63.0 L340.3,61.9 L341.1,60.8 L341.9,59.6 L342.6,58.4 L343.4,57.3 L344.2,56.1 L344.9,54.9 L345.7,53.8 L346.5,52.6 L347.3,51.4 L348.0,50.2 L348.8,49.0 L349.6,47.8 L350.3,46.6 L351.1,45.4 L351.9,44.2 L352.7,43.0 L353.4,41.7 L354.2,40.5 L354.2,56.6 L353.4,57.7 L352.7,58.8 L351.9,60.0 L351.1,61.1 L350.3,62.2 L349.6,63.3 L348.8,64.4 L348.0,65.5 L347.3,66.6 L346.5,67.7 L345.7,68.8 L344.9,69.9 L344.2,71.0 L343.4,72.0 L342.6,73.1 L341.9,74.2 L341.1,75.2 L340.3,76.3 L339.6,77.3 L338.8,78.3 L338.0,79.4 L337.2,80.4 L336.5,81.4 L335.7,82.4 L334.9,83.4 L334.2,84.4 L333.4,85.4 L332.6,86.4 L331.8,87.3 L331.1,88.2 L330.3,89.1 L329.5,90.0 L328.8,90.9 L328.0,91.7 L327.2,92.6 L326.4,93.5 L325.7,94.3 L324.9,95.1 L324.1,95.9 L323.4,96.8 L322.6,97.6 L321.8,98.3 L321.1,99.1 L320.3,99.9 L319.5,100.7 L318.7,101.4 L318.0,102.2 L317.2,102.9 L316.4,103.7 L315.7,104.4 L314.9,105.1 L314.1,105.8 L313.3,106.5 L312.6,107.2 L311.8,107.8 L311.0,108.5 L310.3,109.1 L309.5,109.8 L308.7,110.4 L307.9,111.0 L307.2,111.6 L306.4,112.2 L305.6,112.8 L304.9,113.4 L304.1,114.0 L303.3,114.5 L302.5,115.1 L301.8,115.6 L301.0,116.2 L300.2,116.7 L299.5,117.2 L298.7,117.6 L297.9,118.1 L297.2,118.5 L296.4,119.0 L295.6,119.4 L294.8,119.8 L294.1,120.2 L293.3,120.6 L292.5,121.0 L291.8,121.4 L291.0,121.8 L290.2,122.2 L289.4,122.6 L288.7,123.0 L287.9,123.3 L287.1,123.7 L286.4,124.1 L285.6,124.4 L284.8,124.8 L284.0,125.1 L283.3,125.5 L282.5,125.9 L281.7,126.3 L281.0,126.6 L280.2,127.0 L279.4,127.4 L278.6,127.7 L277.9,128.1 L277.1,128.4 L276.3,128.8 L275.6,129.1 L274.8,129.4 L274.0,129.8 L273.3,130.1 L272.5,130.4 L271.7,130.8 L270.9,131.1 L270.2,131.4 L269.4,131.7 L268.6,132.1 L267.9,132.4 L267.1,132.7 L266.3,133.0 L265.5,133.3 L264.8,133.7 L264.0,134.0 L263.2,134.3 L262.5,134.6 L261.7,134.9 L260.9,135.2 L260.1,135.6 L259.4,135.9 L258.6,136.2 L257.8,136.5 L257.1,136.8 L256.3,137.1 L255.5,137.5 L254.8,137.8 L254.0,138.1 L253.2,138.5 L252.4,138.8 L251.7,139.2 L250.9,139.6 L250.1,139.9 L249.4,140.3 L248.6,140.6 L247.8,141.0 L247.0,141.3 L246.3,141.7 L245.5,142.0 L244.7,142.4 L244.0,142.7 L243.2,143.1 L242.4,143.4 L241.6,143.8 L240.9,144.1 L240.1,144.4 L239.3,144.8 L238.6,145.1 L237.8,145.5 L237.0,145.8 L236.2,146.1 L235.5,146.5 L234.7,146.8 L233.9,147.2 L233.2,147.5 L232.4,147.8 L231.6,148.2 L230.9,148.5 L230.1,148.8 L229.3,149.1 L228.5,149.5 L227.8,149.8 L227.0,150.1 L226.2,150.4 L225.5,150.8 L224.7,151.1 L223.9,151.4 L223.1,151.7 L222.4,152.0 L221.6,152.4 L220.8,152.7 L220.1,153.0 L219.3,153.3 L218.5,153.6 L217.7,154.0 L217.0,154.3 L216.2,154.6 L215.4,154.9 L214.7,155.2 L213.9,155.5 L213.1,155.9 L212.3,156.2 L211.6,156.5 L210.8,156.8 L210.0,157.1 L209.3,157.4 L208.5,157.8 L207.7,158.1 L207.0,158.4 L206.2,158.7 L205.4,159.0 L204.6,159.4 L203.9,159.7 L203.1,160.0 L202.3,160.3 L201.6,160.6 L200.8,161.0 L200.0,161.3 L199.2,161.6 L198.5,161.9 L197.7,162.3 L196.9,162.6 L196.2,162.9 L195.4,163.2 L194.6,163.5 L193.8,163.9 L193.1,164.2 L192.3,164.5 L191.5,164.8 L190.8,165.2 L190.0,165.5 L189.2,165.8 L188.5,166.1 L187.7,166.5 L186.9,166.8 L186.1,167.1 L185.4,167.5 L184.6,167.8 L183.8,168.1 L183.1,168.4 L182.3,168.8 L181.5,169.1 L180.7,169.4 L180.0,169.7 L179.2,170.1 L178.4,170.4 L177.7,170.7 L176.9,171.0 L176.1,171.3 L175.3,171.7 L174.6,172.0 L173.8,172.3 L173.0,172.6 L172.3,173.0 L171.5,173.3 L170.7,173.6 L169.9,173.9 L169.2,174.2 L168.4,174.6 L167.6,174.9 L166.9,175.2 L166.1,175.5 L165.3,175.8 L164.6,176.2 L163.8,176.5 L163.0,176.8 L162.2,177.1 L161.5,177.4 L160.7,177.8 L159.9,178.1 L159.2,178.4 L158.4,178.7 L157.6,179.0 L156.8,179.4 L156.1,179.7 L155.3,180.0 L154.5,180.3 L153.8,180.6 L153.0,181.0 L152.2,181.3 L151.4,181.6 L150.7,181.9 L149.9,182.3 L149.1,182.6 L148.4,182.9 L147.6,183.2 L146.8,183.6 L146.0,183.9 L145.3,184.2 L144.5,184.5 L143.7,184.9 L143.0,185.2 L142.2,185.5 L141.4,185.9 L140.7,186.2 L139.9,186.5 L139.1,186.9 L138.3,187.2 L137.6,187.5 L136.8,187.8 L136.0,188.2 L135.3,188.5 L134.5,188.8 L133.7,189.2 L132.9,189.5 L132.2,189.8 L131.4,190.2 L130.6,190.5 L129.9,190.8 L129.1,191.2 L128.3,191.5 L127.5,191.8 L126.8,192.2 L126.0,192.5 L125.2,192.8 L124.5,193.1 L123.7,193.5 L122.9,193.8 L122.2,194.1 L121.4,194.5 L120.6,194.8 L119.8,195.1 L119.1,195.5 L118.3,195.8 L117.5,196.1 L116.8,196.4 L116.0,196.8 L115.2,197.1 L114.4,197.4 L113.7,197.8 L112.9,198.1 L112.1,198.4 L111.4,198.7 L110.6,199.1 L109.8,199.4 L109.0,199.7 L108.3,200.0 L107.5,200.3 L106.7,200.7 L106.0,201.0 L105.2,201.3 L104.4,201.6 L103.6,201.9 L102.9,202.3 L102.1,202.6 L101.3,202.9 L100.6,203.2 L99.8,203.5 L99.0,203.8 L98.3,204.1 L97.5,204.4 L96.7,204.8 L95.9,205.1 L95.2,205.4 L94.4,205.7 L93.6,206.0 L92.9,206.3 L92.1,206.6 L91.3,206.8 L90.5,207.1 L89.8,207.4 L89.0,207.7 L88.2,208.0 L87.5,208.3 L86.7,208.5 L85.9,208.8 L85.1,209.1 L84.4,209.4 L83.6,209.6 L82.8,209.9 L82.1,210.1 L81.3,210.4 L80.5,210.7 L79.7,210.9 L79.0,211.1 L78.2,211.4 L77.4,211.6 L76.7,211.9 L75.9,212.1 L75.1,212.3 L74.4,212.5 L73.6,212.7 L72.8,212.9 L72.0,213.2 L71.3,213.4 L70.5,213.5 L69.7,213.7 L69.0,213.9 L68.2,214.1 L67.4,214.3 L66.6,214.4 L65.9,214.6 L65.1,214.8 L64.3,214.9 L63.6,215.1 L62.8,215.2 L62.0,215.3 L61.2,215.5 L60.5,215.6 L59.7,215.7 L58.9,215.8 L58.2,215.9 L57.4,216.0 L56.6,216.1 L55.9,216.2 L55.1,216.3 L54.3,216.4 L53.5,216.4 L52.8,216.5 L52.0,216.6 L51.2,216.6 L50.5,216.7 L49.7,216.7 L48.9,216.7 L48.1,216.8 L47.4,216.8 L46.6,216.8Z" fill="#12b06a" fill-opacity="0.34" stroke="none"/>
<path d="M46.6,216.8 L47.4,216.7 L48.2,216.6 L48.9,216.5 L49.7,216.4 L50.5,216.3 L51.3,216.2 L52.0,216.1 L52.8,216.0 L53.6,215.9 L54.4,215.7 L55.1,215.6 L55.9,215.4 L56.7,215.3 L57.5,215.1 L58.2,214.9 L59.0,214.8 L59.8,214.6 L60.6,214.4 L61.3,214.2 L62.1,214.0 L62.9,213.8 L63.7,213.6 L64.4,213.4 L65.2,213.2 L66.0,213.0 L66.8,212.7 L67.5,212.5 L68.3,212.3 L69.1,212.0 L69.9,211.8 L70.6,211.5 L71.4,211.2 L72.2,211.0 L73.0,210.7 L73.7,210.4 L74.5,210.2 L75.3,209.9 L76.1,209.6 L76.8,209.3 L77.6,209.0 L78.4,208.7 L79.2,208.4 L79.9,208.1 L80.7,207.8 L81.5,207.5 L82.3,207.2 L83.0,206.9 L83.8,206.5 L84.6,206.2 L85.4,205.9 L86.1,205.6 L86.9,205.3 L87.7,204.9 L88.5,204.6 L89.2,204.3 L90.0,204.0 L90.8,203.6 L91.6,203.3 L92.4,203.0 L93.1,202.7 L93.9,202.3 L94.7,202.0 L95.5,201.7 L96.2,201.4 L97.0,201.0 L97.8,200.7 L98.6,200.4 L99.3,200.1 L100.1,199.7 L100.9,199.4 L101.7,199.1 L102.4,198.7 L103.2,198.4 L104.0,198.1 L104.8,197.8 L105.5,197.4 L106.3,197.1 L107.1,196.8 L107.9,196.4 L108.6,196.1 L109.4,195.8 L110.2,195.4 L111.0,195.1 L111.7,194.8 L112.5,194.4 L113.3,194.1 L114.1,193.8 L114.8,193.4 L115.6,193.1 L116.4,192.8 L117.2,192.4 L117.9,192.1 L118.7,191.8 L119.5,191.4 L120.3,191.1 L121.0,190.8 L121.8,190.4 L122.6,190.1 L123.4,189.8 L124.1,189.4 L124.9,189.1 L125.7,188.8 L126.5,188.4 L127.2,188.1 L128.0,187.7 L128.8,187.4 L129.6,187.1 L130.3,186.7 L131.1,186.4 L131.9,186.1 L132.7,185.7 L133.4,185.4 L134.2,185.1 L135.0,184.7 L135.8,184.4 L136.6,184.1 L137.3,183.7 L138.1,183.4 L138.9,183.0 L139.7,182.7 L140.4,182.4 L141.2,182.0 L142.0,181.7 L142.8,181.4 L143.5,181.0 L144.3,180.7 L145.1,180.4 L145.9,180.0 L146.6,179.7 L147.4,179.4 L148.2,179.1 L149.0,178.7 L149.7,178.4 L150.5,178.1 L151.3,177.7 L152.1,177.4 L152.8,177.1 L153.6,176.8 L154.4,176.4 L155.2,176.1 L155.9,175.8 L156.7,175.5 L157.5,175.1 L158.3,174.8 L159.0,174.5 L159.8,174.2 L160.6,173.9 L161.4,173.5 L162.1,173.2 L162.9,172.9 L163.7,172.6 L164.5,172.3 L165.2,171.9 L166.0,171.6 L166.8,171.3 L167.6,171.0 L168.3,170.7 L169.1,170.4 L169.9,170.0 L170.7,169.7 L171.4,169.4 L172.2,169.1 L173.0,168.8 L173.8,168.5 L174.5,168.1 L175.3,167.8 L176.1,167.5 L176.9,167.2 L177.6,166.9 L178.4,166.6 L179.2,166.2 L180.0,165.9 L180.8,165.6 L181.5,165.3 L182.3,165.0 L183.1,164.6 L183.9,164.3 L184.6,164.0 L185.4,163.7 L186.2,163.4 L187.0,163.0 L187.7,162.7 L188.5,162.4 L189.3,162.1 L190.1,161.8 L190.8,161.4 L191.6,161.1 L192.4,160.8 L193.2,160.5 L193.9,160.2 L194.7,159.8 L195.5,159.5 L196.3,159.1 L197.0,158.8 L197.8,158.4 L198.6,158.1 L199.4,157.7 L200.1,157.4 L200.9,157.0 L201.7,156.7 L202.5,156.3 L203.2,156.0 L204.0,155.6 L204.8,155.3 L205.6,154.9 L206.3,154.6 L207.1,154.2 L207.9,153.9 L208.7,153.5 L209.4,153.2 L210.2,152.8 L211.0,152.5 L211.8,152.2 L212.5,151.8 L213.3,151.5 L214.1,151.1 L214.9,150.8 L215.6,150.4 L216.4,150.1 L217.2,149.7 L218.0,149.4 L218.7,149.0 L219.5,148.7 L220.3,148.3 L221.1,148.0 L221.8,147.6 L222.6,147.3 L223.4,146.9 L224.2,146.6 L225.0,146.2 L225.7,145.9 L226.5,145.5 L227.3,145.1 L228.1,144.8 L228.8,144.4 L229.6,144.0 L230.4,143.7 L231.2,143.3 L231.9,142.9 L232.7,142.6 L233.5,142.2 L234.3,141.8 L235.0,141.4 L235.8,141.0 L236.6,140.6 L237.4,140.3 L238.1,139.9 L238.9,139.5 L239.7,139.1 L240.5,138.7 L241.2,138.3 L242.0,137.9 L242.8,137.5 L243.6,137.1 L244.3,136.6 L245.1,136.2 L245.9,135.8 L246.7,135.4 L247.4,134.9 L248.2,134.5 L249.0,134.1 L249.8,133.6 L250.5,133.2 L251.3,132.7 L252.1,132.2 L252.9,131.8 L253.6,131.3 L254.4,130.8 L255.2,130.3 L256.0,129.9 L256.7,129.4 L257.5,128.9 L258.3,128.3 L259.1,127.8 L259.8,127.3 L260.6,126.8 L261.4,126.2 L262.2,125.7 L262.9,125.1 L263.7,124.6 L264.5,124.0 L265.3,123.4 L266.0,122.8 L266.8,122.2 L267.6,121.6 L268.4,121.0 L269.2,120.3 L269.9,119.7 L270.7,119.0 L271.5,118.3 L272.3,117.5 L273.0,116.8 L273.8,116.0 L274.6,115.2 L275.4,114.5 L276.1,113.6 L276.9,112.8 L277.7,112.0 L278.5,111.1 L279.2,110.2 L280.0,109.3 L280.8,108.4 L281.6,107.5 L282.3,106.5 L283.1,105.5 L283.9,104.5 L284.7,103.5 L285.4,102.5 L286.2,101.4 L287.0,100.4 L287.8,99.3 L288.5,98.1 L289.3,96.9 L290.1,95.5 L290.9,94.1 L291.6,92.7 L292.4,91.2 L293.2,89.7 L294.0,88.2 L294.7,86.6 L295.5,85.1 L296.3,83.4 L297.1,81.8 L297.8,80.1 L298.6,78.4 L299.4,76.7 L300.2,75.0 L300.9,73.5 L301.7,71.9 L302.5,70.3 L303.3,68.7 L304.0,67.1 L304.8,65.5 L305.6,63.9 L306.4,62.2 L307.1,60.5 L307.9,58.8 L308.7,57.1 L309.5,55.4 L310.2,53.6 L311.0,51.9 L311.8,50.1 L312.6,48.5 L313.4,46.8 L314.1,45.2 L314.9,43.5 L315.7,41.8 L316.5,40.1 L317.2,38.4 L318.0,36.7 L318.8,35.0 L319.6,33.4 L320.3,31.7 L321.1,30.1 L321.9,28.4 L322.7,26.8 L323.4,25.1 L324.2,23.5 L325.0,21.8 L325.8,20.2 L326.5,18.5 L327.3,16.9 L328.1,15.3 L328.9,13.6 L329.6,12.0 L330.4,10.4 L331.2,8.7 L332.0,7.1 L332.7,5.5 L333.5,3.9 L334.3,2.3 L335.1,0.7 L335.8,-0.9 L336.6,-2.5 L337.4,-4.1 L338.2,-5.7 L338.9,-7.3 L339.7,-8.9 L340.5,-10.5 L341.3,-12.1 L342.0,-13.7 L342.8,-15.3 L343.6,-16.9 L344.4,-18.5 L345.1,-20.1 L345.9,-21.7 L346.7,-23.2 L347.5,-24.8 L348.2,-26.4 L349.0,-28.0 L349.8,-29.6 L350.6,-31.2 L351.3,-32.8 L352.1,-34.4 L352.9,-36.0 L353.7,-37.6 L354.4,-39.2 L355.2,-40.8 L356.0,-42.4 L356.0,-7.9 L355.2,-6.3 L354.4,-4.7 L353.7,-3.1 L352.9,-1.5 L352.1,0.1 L351.3,1.7 L350.6,3.3 L349.8,4.9 L349.0,6.5 L348.2,8.1 L347.5,9.7 L346.7,11.4 L345.9,13.0 L345.1,14.6 L344.4,16.2 L343.6,17.8 L342.8,19.5 L342.0,21.1 L341.3,22.7 L340.5,24.4 L339.7,26.0 L338.9,27.7 L338.2,29.3 L337.4,30.9 L336.6,32.6 L335.8,34.2 L335.1,35.9 L334.3,37.5 L333.5,39.2 L332.7,40.8 L332.0,42.5 L331.2,44.2 L330.4,45.8 L329.6,47.5 L328.9,49.1 L328.1,50.8 L327.3,52.4 L326.5,54.1 L325.8,55.7 L325.0,57.4 L324.2,59.1 L323.4,60.9 L322.7,62.7 L321.9,64.4 L321.1,66.2 L320.3,67.9 L319.6,69.7 L318.8,71.4 L318.0,73.1 L317.2,74.8 L316.5,76.4 L315.7,78.1 L314.9,79.7 L314.1,81.3 L313.4,82.9 L312.6,84.5 L311.8,86.0 L311.0,87.4 L310.2,88.7 L309.5,90.0 L308.7,91.3 L307.9,92.5 L307.1,93.7 L306.4,94.9 L305.6,96.1 L304.8,97.3 L304.0,98.5 L303.3,99.6 L302.5,100.7 L301.7,101.8 L300.9,102.9 L300.2,103.9 L299.4,104.6 L298.6,105.3 L297.8,105.9 L297.1,106.6 L296.3,107.2 L295.5,107.8 L294.7,108.4 L294.0,109.0 L293.2,109.6 L292.4,110.2 L291.6,110.7 L290.9,111.3 L290.1,111.8 L289.3,112.4 L288.5,113.1 L287.8,113.8 L287.0,114.6 L286.2,115.3 L285.4,116.1 L284.7,116.8 L283.9,117.5 L283.1,118.2 L282.3,118.9 L281.6,119.5 L280.8,120.2 L280.0,120.8 L279.2,121.4 L278.5,122.0 L277.7,122.7 L276.9,123.3 L276.1,123.8 L275.4,124.4 L274.6,125.0 L273.8,125.5 L273.0,126.1 L272.3,126.6 L271.5,127.1 L270.7,127.6 L269.9,128.1 L269.2,128.6 L268.4,129.1 L267.6,129.6 L266.8,130.0 L266.0,130.5 L265.3,130.9 L264.5,131.4 L263.7,131.8 L262.9,132.2 L262.2,132.7 L261.4,133.1 L260.6,133.5 L259.8,133.9 L259.1,134.3 L258.3,134.7 L257.5,135.1 L256.7,135.4 L256.0,135.8 L255.2,136.2 L254.4,136.6 L253.6,136.9 L252.9,137.3 L252.1,137.6 L251.3,138.0 L250.5,138.3 L249.8,138.7 L249.0,139.1 L248.2,139.4 L247.4,139.8 L246.7,140.1 L245.9,140.5 L245.1,140.9 L244.3,141.2 L243.6,141.5 L242.8,141.9 L242.0,142.2 L241.2,142.6 L240.5,142.9 L239.7,143.2 L238.9,143.5 L238.1,143.9 L237.4,144.2 L236.6,144.5 L235.8,144.8 L235.0,145.1 L234.3,145.5 L233.5,145.8 L232.7,146.1 L231.9,146.4 L231.2,146.7 L230.4,147.0 L229.6,147.3 L228.8,147.6 L228.1,147.9 L227.3,148.2 L226.5,148.4 L225.7,148.7 L225.0,149.0 L224.2,149.3 L223.4,149.6 L222.6,149.9 L221.8,150.2 L221.1,150.5 L220.3,150.7 L219.5,151.0 L218.7,151.3 L218.0,151.6 L217.2,151.8 L216.4,152.1 L215.6,152.4 L214.9,152.7 L214.1,152.9 L213.3,153.2 L212.5,153.5 L211.8,153.7 L211.0,154.0 L210.2,154.3 L209.4,154.6 L208.7,154.8 L207.9,155.1 L207.1,155.4 L206.3,155.6 L205.6,155.9 L204.8,156.2 L204.0,156.5 L203.2,156.7 L202.5,157.0 L201.7,157.3 L200.9,157.6 L200.1,157.9 L199.4,158.1 L198.6,158.4 L197.8,158.7 L197.0,159.0 L196.3,159.3 L195.5,159.5 L194.7,159.8 L193.9,160.2 L193.2,160.5 L192.4,160.8 L191.6,161.1 L190.8,161.4 L190.1,161.8 L189.3,162.1 L188.5,162.4 L187.7,162.7 L187.0,163.0 L186.2,163.4 L185.4,163.7 L184.6,164.0 L183.9,164.3 L183.1,164.6 L182.3,165.0 L181.5,165.3 L180.8,165.6 L180.0,165.9 L179.2,166.2 L178.4,166.6 L177.6,166.9 L176.9,167.2 L176.1,167.5 L175.3,167.8 L174.5,168.1 L173.8,168.5 L173.0,168.8 L172.2,169.1 L171.4,169.4 L170.7,169.7 L169.9,170.0 L169.1,170.4 L168.3,170.7 L167.6,171.0 L166.8,171.3 L166.0,171.6 L165.2,171.9 L164.5,172.3 L163.7,172.6 L162.9,172.9 L162.1,173.2 L161.4,173.5 L160.6,173.9 L159.8,174.2 L159.0,174.5 L158.3,174.8 L157.5,175.1 L156.7,175.5 L155.9,175.8 L155.2,176.1 L154.4,176.4 L153.6,176.8 L152.8,177.1 L152.1,177.4 L151.3,177.7 L150.5,178.1 L149.7,178.4 L149.0,178.7 L148.2,179.1 L147.4,179.4 L146.6,179.7 L145.9,180.0 L145.1,180.4 L144.3,180.7 L143.5,181.0 L142.8,181.4 L142.0,181.7 L141.2,182.0 L140.4,182.4 L139.7,182.7 L138.9,183.0 L138.1,183.4 L137.3,183.7 L136.6,184.1 L135.8,184.4 L135.0,184.7 L134.2,185.1 L133.4,185.4 L132.7,185.7 L131.9,186.1 L131.1,186.4 L130.3,186.7 L129.6,187.1 L128.8,187.4 L128.0,187.7 L127.2,188.1 L126.5,188.4 L125.7,188.8 L124.9,189.1 L124.1,189.4 L123.4,189.8 L122.6,190.1 L121.8,190.4 L121.0,190.8 L120.3,191.1 L119.5,191.4 L118.7,191.8 L117.9,192.1 L117.2,192.4 L116.4,192.8 L115.6,193.1 L114.8,193.4 L114.1,193.8 L113.3,194.1 L112.5,194.4 L111.7,194.8 L111.0,195.1 L110.2,195.4 L109.4,195.8 L108.6,196.1 L107.9,196.4 L107.1,196.8 L106.3,197.1 L105.5,197.4 L104.8,197.8 L104.0,198.1 L103.2,198.4 L102.4,198.7 L101.7,199.1 L100.9,199.4 L100.1,199.7 L99.3,200.1 L98.6,200.4 L97.8,200.7 L97.0,201.0 L96.2,201.4 L95.5,201.7 L94.7,202.0 L93.9,202.3 L93.1,202.7 L92.4,203.0 L91.6,203.3 L90.8,203.6 L90.0,204.0 L89.2,204.3 L88.5,204.6 L87.7,204.9 L86.9,205.3 L86.1,205.6 L85.4,205.9 L84.6,206.2 L83.8,206.5 L83.0,206.9 L82.3,207.2 L81.5,207.5 L80.7,207.8 L79.9,208.1 L79.2,208.4 L78.4,208.7 L77.6,209.0 L76.8,209.3 L76.1,209.6 L75.3,209.9 L74.5,210.2 L73.7,210.4 L73.0,210.7 L72.2,211.0 L71.4,211.2 L70.6,211.5 L69.9,211.8 L69.1,212.0 L68.3,212.3 L67.5,212.5 L66.8,212.7 L66.0,213.0 L65.2,213.2 L64.4,213.4 L63.7,213.6 L62.9,213.8 L62.1,214.0 L61.3,214.2 L60.6,214.4 L59.8,214.6 L59.0,214.8 L58.2,214.9 L57.5,215.1 L56.7,215.3 L55.9,215.4 L55.1,215.6 L54.4,215.7 L53.6,215.9 L52.8,216.0 L52.0,216.1 L51.3,216.2 L50.5,216.3 L49.7,216.4 L48.9,216.5 L48.2,216.6 L47.4,216.7 L46.6,216.8Z" fill="#b8262e" fill-opacity="0.25" stroke="none"/>
<path d="M46.6,216.8 L47.4,216.7 L48.1,216.7 L48.9,216.6 L49.6,216.6 L50.4,216.5 L51.1,216.4 L51.9,216.3 L52.6,216.2 L53.4,216.1 L54.2,216.0 L54.9,215.8 L55.7,215.7 L56.4,215.6 L57.2,215.4 L57.9,215.3 L58.7,215.1 L59.5,214.9 L60.2,214.8 L61.0,214.6 L61.7,214.4 L62.5,214.2 L63.2,214.0 L64.0,213.8 L64.7,213.6 L65.5,213.4 L66.3,213.1 L67.0,212.9 L67.8,212.6 L68.5,212.4 L69.3,212.1 L70.0,211.9 L70.8,211.6 L71.6,211.3 L72.3,211.0 L73.1,210.7 L73.8,210.5 L74.6,210.2 L75.3,209.9 L76.1,209.6 L76.8,209.2 L77.6,208.9 L78.4,208.6 L79.1,208.3 L79.9,208.0 L80.6,207.6 L81.4,207.3 L82.1,207.0 L82.9,206.6 L83.7,206.3 L84.4,206.0 L85.2,205.6 L85.9,205.3 L86.7,204.9 L87.4,204.6 L88.2,204.2 L88.9,203.9 L89.7,203.5 L90.5,203.2 L91.2,202.8 L92.0,202.5 L92.7,202.1 L93.5,201.8 L94.2,201.4 L95.0,201.1 L95.7,200.7 L96.5,200.4 L97.3,200.0 L98.0,199.7 L98.8,199.3 L99.5,199.0 L100.3,198.6 L101.0,198.3 L101.8,198.0 L102.6,197.6 L103.3,197.3 L104.1,196.9 L104.8,196.6 L105.6,196.2 L106.3,195.9 L107.1,195.5 L107.8,195.2 L108.6,194.8 L109.4,194.5 L110.1,194.1 L110.9,193.8 L111.6,193.5 L112.4,193.1 L113.1,192.8 L113.9,192.4 L114.7,192.1 L115.4,191.7 L116.2,191.4 L116.9,191.0 L117.7,190.7 L118.4,190.4 L119.2,190.0 L119.9,189.7 L120.7,189.3 L121.5,189.0 L122.2,188.7 L123.0,188.3 L123.7,188.0 L124.5,187.6 L125.2,187.3 L126.0,187.0 L126.8,186.6 L127.5,186.3 L128.3,185.9 L129.0,185.6 L129.8,185.3 L130.5,184.9 L131.3,184.6 L132.0,184.2 L132.8,183.9 L133.6,183.6 L134.3,183.2 L135.1,182.9 L135.8,182.6 L136.6,182.2 L137.3,181.9 L138.1,181.5 L138.8,181.2 L139.6,180.9 L140.4,180.5 L141.1,180.2 L141.9,179.9 L142.6,179.5 L143.4,179.2 L144.1,178.8 L144.9,178.5 L145.7,178.2 L146.4,177.8 L147.2,177.5 L147.9,177.1 L148.7,176.8 L149.4,176.5 L150.2,176.1 L150.9,175.8 L151.7,175.4 L152.5,175.1 L153.2,174.8 L154.0,174.4 L154.7,174.1 L155.5,173.7 L156.2,173.4 L157.0,173.0 L157.8,172.7 L158.5,172.4 L159.3,172.0 L160.0,171.7 L160.8,171.3 L161.5,171.0 L162.3,170.6 L163.0,170.3 L163.8,169.9 L164.6,169.6 L165.3,169.2 L166.1,168.9 L166.8,168.6 L167.6,168.2 L168.3,167.9 L169.1,167.5 L169.9,167.2 L170.6,166.8 L171.4,166.5 L172.1,166.1 L172.9,165.8 L173.6,165.4 L174.4,165.1 L175.1,164.7 L175.9,164.4 L176.7,164.1 L177.4,163.7 L178.2,163.4 L178.9,163.0 L179.7,162.7 L180.4,162.3 L181.2,162.0 L181.9,161.6 L182.7,161.3 L183.5,160.9 L184.2,160.6 L185.0,160.3 L185.7,159.9 L186.5,159.6 L187.2,159.2 L188.0,158.9 L188.8,158.5 L189.5,158.2 L190.3,157.8 L191.0,157.5 L191.8,157.2 L192.5,156.8 L193.3,156.5 L194.0,156.1 L194.8,155.8 L195.6,155.4 L196.3,155.1 L197.1,154.8 L197.8,154.4 L198.6,154.1 L199.3,153.7 L200.1,153.4 L200.9,153.1 L201.6,152.7 L202.4,152.4 L203.1,152.0 L203.9,151.7 L204.6,151.4 L205.4,151.0 L206.1,150.6 L206.9,150.3 L207.7,149.9 L208.4,149.5 L209.2,149.1 L209.9,148.8 L210.7,148.4 L211.4,148.0 L212.2,147.6 L213.0,147.3 L213.7,146.9 L214.5,146.5 L215.2,146.1 L216.0,145.8 L216.7,145.4 L217.5,145.0 L218.2,144.6 L219.0,144.3 L219.8,143.9 L220.5,143.5 L221.3,143.1 L222.0,142.8 L222.8,142.4 L223.5,142.0 L224.3,141.6 L225.0,141.3 L225.8,140.9 L226.6,140.5 L227.3,140.1 L228.1,139.8 L228.8,139.4 L229.6,139.0 L230.3,138.7 L231.1,138.3 L231.9,137.9 L232.6,137.6 L233.4,137.2 L234.1,136.8 L234.9,136.5 L235.6,136.1 L236.4,135.7 L237.1,135.3 L237.9,135.0 L238.7,134.6 L239.4,134.2 L240.2,133.9 L240.9,133.5 L241.7,133.1 L242.4,132.7 L243.2,132.4 L244.0,132.0 L244.7,131.6 L245.5,131.2 L246.2,130.8 L247.0,130.4 L247.7,130.1 L248.5,129.6 L249.2,129.2 L250.0,128.8 L250.8,128.4 L251.5,128.0 L252.3,127.6 L253.0,127.1 L253.8,126.7 L254.5,126.3 L255.3,125.8 L256.1,125.4 L256.8,124.9 L257.6,124.4 L258.3,123.9 L259.1,123.4 L259.8,122.9 L260.6,122.4 L261.3,121.9 L262.1,121.3 L262.9,120.8 L263.6,120.2 L264.4,119.7 L265.1,119.1 L265.9,118.5 L266.6,117.9 L267.4,117.2 L268.1,116.6 L268.9,115.9 L269.7,115.3 L270.4,114.6 L271.2,113.8 L271.9,113.0 L272.7,112.3 L273.4,111.4 L274.2,110.6 L275.0,109.8 L275.7,108.9 L276.5,108.0 L277.2,107.1 L278.0,106.2 L278.7,105.2 L279.5,104.2 L280.2,103.2 L281.0,102.2 L281.8,101.1 L282.5,100.0 L283.3,98.9 L284.0,97.8 L284.8,96.7 L285.5,95.5 L286.3,94.3 L287.1,93.1 L287.8,91.9 L288.6,90.6 L289.3,89.3 L290.1,88.0 L290.8,86.8 L291.6,85.5 L292.3,84.2 L293.1,82.9 L293.9,81.6 L294.6,80.3 L295.4,79.0 L296.1,77.6 L296.9,76.2 L297.6,74.8 L298.4,73.4 L299.2,72.0 L299.9,70.5 L300.7,69.1 L301.4,67.6 L302.2,66.1 L302.9,64.6 L303.7,63.1 L304.4,61.5 L305.2,60.0 L306.0,58.5 L306.7,56.9 L307.5,55.3 L308.2,53.8 L309.0,52.2 L309.7,50.6 L310.5,49.0 L311.2,47.3 L312.0,45.7 L312.8,44.1 L313.5,42.5 L314.3,40.9 L315.0,39.3 L315.8,37.6 L316.5,36.0 L317.3,34.4 L318.1,32.7 L318.8,31.1 L319.6,29.4 L320.3,27.8 L321.1,26.2 L321.8,24.5 L322.6,22.9 L323.3,21.3 L324.1,19.6 L324.9,18.0 L325.6,16.4 L326.4,14.7 L327.1,13.1 L327.9,11.5 L328.6,9.8 L329.4,8.2 L330.2,6.6 L330.9,5.0 L331.7,3.3 L332.4,1.7 L333.2,0.1 L333.9,-1.5 L334.7,-3.1 L335.4,-4.8 L336.2,-6.4 L337.0,-8.0 L337.7,-9.6 L338.5,-11.2 L339.2,-12.8 L340.0,-14.5 L340.7,-16.1 L341.5,-17.7 L342.3,-19.3 L343.0,-20.9 L343.8,-22.5 L344.5,-24.1 L345.3,-25.8 L346.0,-27.4 L346.8,-29.0 L347.5,-30.6 L348.3,-32.2 L348.3,-16.1 L347.5,-14.5 L346.8,-12.8 L346.0,-11.2 L345.3,-9.6 L344.5,-8.0 L343.8,-6.4 L343.0,-4.7 L342.3,-3.1 L341.5,-1.5 L340.7,0.1 L340.0,1.8 L339.2,3.4 L338.5,5.0 L337.7,6.6 L337.0,8.3 L336.2,9.9 L335.4,11.5 L334.7,13.2 L333.9,14.8 L333.2,16.4 L332.4,18.1 L331.7,19.7 L330.9,21.3 L330.2,23.0 L329.4,24.6 L328.6,26.3 L327.9,27.9 L327.1,29.5 L326.4,31.2 L325.6,32.8 L324.9,34.4 L324.1,36.1 L323.3,37.7 L322.6,39.4 L321.8,41.0 L321.1,42.6 L320.3,44.3 L319.6,45.9 L318.8,47.5 L318.1,49.2 L317.3,50.8 L316.5,52.4 L315.8,54.0 L315.0,55.6 L314.3,57.1 L313.5,58.7 L312.8,60.3 L312.0,61.9 L311.2,63.4 L310.5,65.0 L309.7,66.5 L309.0,68.0 L308.2,69.5 L307.5,71.0 L306.7,72.5 L306.0,73.9 L305.2,75.4 L304.4,76.8 L303.7,78.3 L302.9,79.7 L302.2,81.1 L301.4,82.4 L300.7,83.8 L299.9,85.1 L299.2,86.4 L298.4,87.7 L297.6,89.0 L296.9,90.3 L296.1,91.5 L295.4,92.7 L294.6,93.9 L293.9,95.1 L293.1,96.3 L292.3,97.4 L291.6,98.5 L290.8,99.6 L290.1,100.7 L289.3,101.7 L288.6,102.6 L287.8,103.6 L287.1,104.5 L286.3,105.4 L285.5,106.2 L284.8,107.1 L284.0,107.9 L283.3,108.7 L282.5,109.5 L281.8,110.3 L281.0,111.1 L280.2,111.8 L279.5,112.6 L278.7,113.3 L278.0,114.0 L277.2,114.7 L276.5,115.3 L275.7,116.0 L275.0,116.6 L274.2,117.3 L273.4,117.9 L272.7,118.5 L271.9,119.0 L271.2,119.6 L270.4,120.2 L269.7,120.7 L268.9,121.3 L268.1,121.9 L267.4,122.4 L266.6,122.9 L265.9,123.5 L265.1,124.0 L264.4,124.5 L263.6,125.0 L262.9,125.4 L262.1,125.9 L261.3,126.4 L260.6,126.8 L259.8,127.3 L259.1,127.7 L258.3,128.1 L257.6,128.6 L256.8,129.0 L256.1,129.4 L255.3,129.8 L254.5,130.2 L253.8,130.6 L253.0,130.9 L252.3,131.3 L251.5,131.7 L250.8,132.1 L250.0,132.4 L249.2,132.8 L248.5,133.1 L247.7,133.5 L247.0,133.8 L246.2,134.1 L245.5,134.5 L244.7,134.8 L244.0,135.1 L243.2,135.4 L242.4,135.8 L241.7,136.1 L240.9,136.4 L240.2,136.7 L239.4,137.1 L238.7,137.4 L237.9,137.7 L237.1,138.0 L236.4,138.3 L235.6,138.6 L234.9,138.9 L234.1,139.2 L233.4,139.6 L232.6,139.9 L231.9,140.2 L231.1,140.5 L230.3,140.8 L229.6,141.1 L228.8,141.4 L228.1,141.8 L227.3,142.1 L226.6,142.4 L225.8,142.7 L225.0,143.0 L224.3,143.3 L223.5,143.6 L222.8,143.9 L222.0,144.3 L221.3,144.6 L220.5,144.9 L219.8,145.2 L219.0,145.5 L218.2,145.8 L217.5,146.1 L216.7,146.4 L216.0,146.7 L215.2,147.0 L214.5,147.4 L213.7,147.7 L213.0,148.0 L212.2,148.3 L211.4,148.6 L210.7,148.9 L209.9,149.2 L209.2,149.5 L208.4,149.8 L207.7,150.1 L206.9,150.4 L206.1,150.7 L205.4,151.0 L204.6,151.4 L203.9,151.7 L203.1,152.0 L202.4,152.4 L201.6,152.7 L200.9,153.1 L200.1,153.4 L199.3,153.7 L198.6,154.1 L197.8,154.4 L197.1,154.8 L196.3,155.1 L195.6,155.4 L194.8,155.8 L194.0,156.1 L193.3,156.5 L192.5,156.8 L191.8,157.2 L191.0,157.5 L190.3,157.8 L189.5,158.2 L188.8,158.5 L188.0,158.9 L187.2,159.2 L186.5,159.6 L185.7,159.9 L185.0,160.3 L184.2,160.6 L183.5,160.9 L182.7,161.3 L181.9,161.6 L181.2,162.0 L180.4,162.3 L179.7,162.7 L178.9,163.0 L178.2,163.4 L177.4,163.7 L176.7,164.1 L175.9,164.4 L175.1,164.7 L174.4,165.1 L173.6,165.4 L172.9,165.8 L172.1,166.1 L171.4,166.5 L170.6,166.8 L169.9,167.2 L169.1,167.5 L168.3,167.9 L167.6,168.2 L166.8,168.6 L166.1,168.9 L165.3,169.2 L164.6,169.6 L163.8,169.9 L163.0,170.3 L162.3,170.6 L161.5,171.0 L160.8,171.3 L160.0,171.7 L159.3,172.0 L158.5,172.4 L157.8,172.7 L157.0,173.0 L156.2,173.4 L155.5,173.7 L154.7,174.1 L154.0,174.4 L153.2,174.8 L152.5,175.1 L151.7,175.4 L150.9,175.8 L150.2,176.1 L149.4,176.5 L148.7,176.8 L147.9,177.1 L147.2,177.5 L146.4,177.8 L145.7,178.2 L144.9,178.5 L144.1,178.8 L143.4,179.2 L142.6,179.5 L141.9,179.9 L141.1,180.2 L140.4,180.5 L139.6,180.9 L138.8,181.2 L138.1,181.5 L137.3,181.9 L136.6,182.2 L135.8,182.6 L135.1,182.9 L134.3,183.2 L133.6,183.6 L132.8,183.9 L132.0,184.2 L131.3,184.6 L130.5,184.9 L129.8,185.3 L129.0,185.6 L128.3,185.9 L127.5,186.3 L126.8,186.6 L126.0,187.0 L125.2,187.3 L124.5,187.6 L123.7,188.0 L123.0,188.3 L122.2,188.7 L121.5,189.0 L120.7,189.3 L119.9,189.7 L119.2,190.0 L118.4,190.4 L117.7,190.7 L116.9,191.0 L116.2,191.4 L115.4,191.7 L114.7,192.1 L113.9,192.4 L113.1,192.8 L112.4,193.1 L111.6,193.5 L110.9,193.8 L110.1,194.1 L109.4,194.5 L108.6,194.8 L107.8,195.2 L107.1,195.5 L106.3,195.9 L105.6,196.2 L104.8,196.6 L104.1,196.9 L103.3,197.3 L102.6,197.6 L101.8,198.0 L101.0,198.3 L100.3,198.6 L99.5,199.0 L98.8,199.3 L98.0,199.7 L97.3,200.0 L96.5,200.4 L95.7,200.7 L95.0,201.1 L94.2,201.4 L93.5,201.8 L92.7,202.1 L92.0,202.5 L91.2,202.8 L90.5,203.2 L89.7,203.5 L88.9,203.9 L88.2,204.2 L87.4,204.6 L86.7,204.9 L85.9,205.3 L85.2,205.6 L84.4,206.0 L83.7,206.3 L82.9,206.6 L82.1,207.0 L81.4,207.3 L80.6,207.6 L79.9,208.0 L79.1,208.3 L78.4,208.6 L77.6,208.9 L76.8,209.2 L76.1,209.6 L75.3,209.9 L74.6,210.2 L73.8,210.5 L73.1,210.7 L72.3,211.0 L71.6,211.3 L70.8,211.6 L70.0,211.9 L69.3,212.1 L68.5,212.4 L67.8,212.6 L67.0,212.9 L66.3,213.1 L65.5,213.4 L64.7,213.6 L64.0,213.8 L63.2,214.0 L62.5,214.2 L61.7,214.4 L61.0,214.6 L60.2,214.8 L59.5,214.9 L58.7,215.1 L57.9,215.3 L57.2,215.4 L56.4,215.6 L55.7,215.7 L54.9,215.8 L54.2,216.0 L53.4,216.1 L52.6,216.2 L51.9,216.3 L51.1,216.4 L50.4,216.5 L49.6,216.6 L48.9,216.6 L48.1,216.7 L47.4,216.7 L46.6,216.8Z" fill="#3a3af0" fill-opacity="0.3" stroke="none"/>
<path d="M46.6,216.8 L47.6,216.7 L48.6,216.6 L49.6,216.6 L50.6,216.4 L51.6,216.3 L52.7,216.2 L53.7,216.0 L54.7,215.9 L55.7,215.7 L56.7,215.5 L57.7,215.3 L58.7,215.1 L59.7,214.9 L60.7,214.6 L61.7,214.4 L62.7,214.1 L63.8,213.9 L64.8,213.6 L65.8,213.3 L66.8,213.0 L67.8,212.6 L68.8,212.3 L69.8,211.9 L70.8,211.6 L71.8,211.2 L72.8,210.8 L73.8,210.4 L74.9,210.0 L75.9,209.6 L76.9,209.2 L77.9,208.8 L78.9,208.4 L79.9,207.9 L80.9,207.5 L81.9,207.1 L82.9,206.6 L83.9,206.2 L84.9,205.7 L86.0,205.3 L87.0,204.8 L88.0,204.3 L89.0,203.9 L90.0,203.4 L91.0,202.9 L92.0,202.5 L93.0,202.0 L94.0,201.5 L95.0,201.1 L96.0,200.6 L97.1,200.1 L98.1,199.7 L99.1,199.2 L100.1,198.7 L101.1,198.3 L102.1,197.8 L103.1,197.4 L104.1,196.9 L105.1,196.4 L106.1,196.0 L107.1,195.5 L108.2,195.0 L109.2,194.6 L110.2,194.1 L111.2,193.7 L112.2,193.2 L113.2,192.7 L114.2,192.3 L115.2,191.8 L116.2,191.4 L117.2,190.9 L118.2,190.4 L119.3,190.0 L120.3,189.5 L121.3,189.1 L122.3,188.6 L123.3,188.2 L124.3,187.7 L125.3,187.3 L126.3,186.8 L127.3,186.4 L128.3,185.9 L129.3,185.5 L130.3,185.0 L131.4,184.6 L132.4,184.1 L133.4,183.7 L134.4,183.2 L135.4,182.7 L136.4,182.3 L137.4,181.8 L138.4,181.4 L139.4,180.9 L140.4,180.5 L141.4,180.0 L142.5,179.6 L143.5,179.1 L144.5,178.7 L145.5,178.2 L146.5,177.8 L147.5,177.3 L148.5,176.9 L149.5,176.4 L150.5,176.0 L151.5,175.5 L152.5,175.1 L153.6,174.6 L154.6,174.1 L155.6,173.7 L156.6,173.2 L157.6,172.8 L158.6,172.3 L159.6,171.9 L160.6,171.4 L161.6,170.9 L162.6,170.5 L163.6,170.0 L164.7,169.5 L165.7,169.1 L166.7,168.6 L167.7,168.2 L168.7,167.7 L169.7,167.2 L170.7,166.8 L171.7,166.3 L172.7,165.9 L173.7,165.4 L174.7,164.9 L175.8,164.5 L176.8,164.0 L177.8,163.5 L178.8,163.1 L179.8,162.6 L180.8,162.2 L181.8,161.7 L182.8,161.2 L183.8,160.8 L184.8,160.3 L185.8,159.9 L186.9,159.4 L187.9,158.9 L188.9,158.5 L189.9,158.0 L190.9,157.6 L191.9,157.1 L192.9,156.6 L193.9,156.2 L194.9,155.7 L195.9,155.3 L196.9,154.8 L198.0,154.4 L199.0,153.9 L200.0,153.4 L201.0,153.0 L202.0,152.5 L203.0,152.1 L204.0,151.6 L205.0,151.2 L206.0,150.7 L207.0,150.3 L208.0,149.8 L209.1,149.4 L210.1,148.9 L211.1,148.5 L212.1,148.0 L213.1,147.6 L214.1,147.1 L215.1,146.6 L216.1,146.2 L217.1,145.7 L218.1,145.3 L219.1,144.8 L220.2,144.4 L221.2,143.9 L222.2,143.4 L223.2,143.0 L224.2,142.5 L225.2,142.1 L226.2,141.6 L227.2,141.1 L228.2,140.7 L229.2,140.2 L230.2,139.8 L231.3,139.3 L232.3,138.9 L233.3,138.4 L234.3,138.0 L235.3,137.5 L236.3,137.1 L237.3,136.6 L238.3,136.1 L239.3,135.7 L240.3,135.2 L241.3,134.8 L242.4,134.3 L243.4,133.8 L244.4,133.4 L245.4,132.9 L246.4,132.4 L247.4,131.9 L248.4,131.4 L249.4,130.9 L250.4,130.4 L251.4,129.9 L252.4,129.4 L253.5,128.8 L254.5,128.3 L255.5,127.7 L256.5,127.1 L257.5,126.5 L258.5,125.9 L259.5,125.3 L260.5,124.7 L261.5,124.0 L262.5,123.3 L263.5,122.7 L264.6,121.9 L265.6,121.2 L266.6,120.5 L267.6,119.7 L268.6,118.9 L269.6,118.1 L270.6,117.2 L271.6,116.3 L272.6,115.4 L273.6,114.5 L274.6,113.5 L275.6,112.5 L276.7,111.5 L277.7,110.4 L278.7,109.3 L279.7,108.2 L280.7,107.0 L281.7,105.8 L282.7,104.6 L283.7,103.3 L284.7,102.0 L285.7,100.6 L286.7,99.2 L287.8,97.8 L288.8,96.3 L289.8,94.8 L290.8,93.3 L291.8,91.7 L292.8,90.1 L293.8,88.5 L294.8,86.8 L295.8,85.1 L296.8,83.3 L297.8,81.5 L298.9,79.7 L299.9,77.9 L300.9,76.0 L301.9,74.1 L302.9,72.2 L303.9,70.2 L304.9,68.3 L305.9,66.3 L306.9,64.3 L307.9,62.2 L308.9,60.2 L310.0,58.1 L311.0,56.0 L312.0,53.9 L313.0,51.7 L314.0,49.6 L315.0,47.5 L316.0,45.3 L317.0,43.2 L318.0,41.0 L319.0,38.8 L320.0,36.6 L321.1,34.5 L322.1,32.3 L323.1,30.1 L324.1,27.9 L325.1,25.7 L326.1,23.5 L327.1,21.4 L328.1,19.2 L329.1,17.0 L330.1,14.8 L331.1,12.6 L332.2,10.5 L333.2,8.3 L334.2,6.1 L335.2,4.0 L336.2,1.8 L337.2,-0.4 L338.2,-2.5 L339.2,-4.7 L340.2,-6.9 L341.2,-9.0 L342.2,-11.2 L343.3,-13.4 L344.3,-15.5 L345.3,-17.7 L346.3,-19.8 L347.3,-22.0 L348.3,-24.2" stroke="#3a3af0" stroke-width="1.8"/>
<path d="M46.6,216.8 L47.6,216.7 L48.7,216.6 L49.7,216.4 L50.7,216.3 L51.8,216.1 L52.8,216.0 L53.8,215.8 L54.9,215.6 L55.9,215.4 L56.9,215.2 L58.0,215.0 L59.0,214.8 L60.1,214.5 L61.1,214.3 L62.1,214.0 L63.2,213.8 L64.2,213.5 L65.2,213.2 L66.3,212.9 L67.3,212.6 L68.3,212.3 L69.4,211.9 L70.4,211.6 L71.4,211.2 L72.5,210.9 L73.5,210.5 L74.5,210.1 L75.6,209.8 L76.6,209.4 L77.6,209.0 L78.7,208.6 L79.7,208.2 L80.7,207.8 L81.8,207.4 L82.8,207.0 L83.9,206.5 L84.9,206.1 L85.9,205.7 L87.0,205.3 L88.0,204.8 L89.0,204.4 L90.1,204.0 L91.1,203.5 L92.1,203.1 L93.2,202.7 L94.2,202.2 L95.2,201.8 L96.3,201.3 L97.3,200.9 L98.3,200.5 L99.4,200.0 L100.4,199.6 L101.4,199.2 L102.5,198.7 L103.5,198.3 L104.5,197.8 L105.6,197.4 L106.6,197.0 L107.7,196.5 L108.7,196.1 L109.7,195.6 L110.8,195.2 L111.8,194.8 L112.8,194.3 L113.9,193.9 L114.9,193.4 L115.9,193.0 L117.0,192.5 L118.0,192.1 L119.0,191.6 L120.1,191.2 L121.1,190.7 L122.1,190.3 L123.2,189.9 L124.2,189.4 L125.2,189.0 L126.3,188.5 L127.3,188.1 L128.3,187.6 L129.4,187.2 L130.4,186.7 L131.5,186.3 L132.5,185.8 L133.5,185.4 L134.6,184.9 L135.6,184.5 L136.6,184.0 L137.7,183.6 L138.7,183.1 L139.7,182.7 L140.8,182.2 L141.8,181.8 L142.8,181.3 L143.9,180.9 L144.9,180.5 L145.9,180.0 L147.0,179.6 L148.0,179.1 L149.0,178.7 L150.1,178.3 L151.1,177.8 L152.1,177.4 L153.2,176.9 L154.2,176.5 L155.3,176.1 L156.3,175.6 L157.3,175.2 L158.4,174.8 L159.4,174.4 L160.4,173.9 L161.5,173.5 L162.5,173.1 L163.5,172.6 L164.6,172.2 L165.6,171.8 L166.6,171.4 L167.7,171.0 L168.7,170.5 L169.7,170.1 L170.8,169.7 L171.8,169.3 L172.8,168.8 L173.9,168.4 L174.9,168.0 L175.9,167.6 L177.0,167.1 L178.0,166.7 L179.1,166.3 L180.1,165.9 L181.1,165.4 L182.2,165.0 L183.2,164.6 L184.2,164.2 L185.3,163.7 L186.3,163.3 L187.3,162.9 L188.4,162.5 L189.4,162.0 L190.4,161.6 L191.5,161.2 L192.5,160.7 L193.5,160.3 L194.6,159.9 L195.6,159.5 L196.6,159.0 L197.7,158.6 L198.7,158.2 L199.7,157.8 L200.8,157.3 L201.8,156.9 L202.9,156.5 L203.9,156.1 L204.9,155.7 L206.0,155.3 L207.0,154.9 L208.0,154.4 L209.1,154.0 L210.1,153.6 L211.1,153.2 L212.2,152.8 L213.2,152.4 L214.2,152.0 L215.3,151.6 L216.3,151.1 L217.3,150.7 L218.4,150.3 L219.4,149.9 L220.4,149.5 L221.5,149.1 L222.5,148.6 L223.5,148.2 L224.6,147.8 L225.6,147.3 L226.7,146.9 L227.7,146.5 L228.7,146.0 L229.8,145.6 L230.8,145.1 L231.8,144.7 L232.9,144.2 L233.9,143.8 L234.9,143.3 L236.0,142.9 L237.0,142.4 L238.0,141.9 L239.1,141.4 L240.1,140.9 L241.1,140.4 L242.2,139.9 L243.2,139.4 L244.2,138.9 L245.3,138.4 L246.3,137.9 L247.3,137.4 L248.4,136.8 L249.4,136.3 L250.5,135.7 L251.5,135.2 L252.5,134.6 L253.6,134.0 L254.6,133.4 L255.6,132.8 L256.7,132.2 L257.7,131.6 L258.7,131.0 L259.8,130.4 L260.8,129.7 L261.8,129.0 L262.9,128.4 L263.9,127.7 L264.9,127.0 L266.0,126.3 L267.0,125.5 L268.0,124.8 L269.1,124.0 L270.1,123.2 L271.1,122.4 L272.2,121.6 L273.2,120.7 L274.3,119.9 L275.3,119.0 L276.3,118.1 L277.4,117.1 L278.4,116.1 L279.4,115.2 L280.5,114.1 L281.5,113.1 L282.5,112.0 L283.6,110.9 L284.6,109.8 L285.6,108.6 L286.7,107.4 L287.7,106.2 L288.7,104.9 L289.8,103.6 L290.8,102.3 L291.8,100.9 L292.9,99.6 L293.9,98.1 L294.9,96.6 L296.0,95.1 L297.0,93.6 L298.1,92.0 L299.1,90.4 L300.1,88.8 L301.2,87.1 L302.2,85.3 L303.2,83.6 L304.3,81.8 L305.3,80.0 L306.3,78.1 L307.4,76.2 L308.4,74.3 L309.4,72.3 L310.5,70.3 L311.5,68.3 L312.5,66.3 L313.6,64.2 L314.6,62.1 L315.6,60.0 L316.7,57.9 L317.7,55.8 L318.7,53.7 L319.8,51.5 L320.8,49.3 L321.9,47.2 L322.9,45.0 L323.9,42.8 L325.0,40.6 L326.0,38.5 L327.0,36.3 L328.1,34.1 L329.1,31.9 L330.1,29.8 L331.2,27.6 L332.2,25.4 L333.2,23.2 L334.3,21.1 L335.3,18.9 L336.3,16.8 L337.4,14.6 L338.4,12.5 L339.4,10.3 L340.5,8.2 L341.5,6.0 L342.5,3.9 L343.6,1.7 L344.6,-0.4 L345.7,-2.5 L346.7,-4.6 L347.7,-6.8 L348.8,-8.9 L349.8,-11.0 L350.8,-13.1 L351.9,-15.2 L352.9,-17.3 L353.9,-19.5 L355.0,-21.6 L356.0,-23.7" stroke="#b8262e" stroke-width="1.8"/>
<path d="M46.6,216.8 L47.6,216.8 L48.7,216.7 L49.7,216.7 L50.7,216.6 L51.7,216.6 L52.8,216.5 L53.8,216.4 L54.8,216.3 L55.9,216.2 L56.9,216.1 L57.9,216.0 L58.9,215.8 L60.0,215.7 L61.0,215.5 L62.0,215.3 L63.1,215.1 L64.1,215.0 L65.1,214.8 L66.1,214.5 L67.2,214.3 L68.2,214.1 L69.2,213.9 L70.3,213.6 L71.3,213.3 L72.3,213.1 L73.3,212.8 L74.4,212.5 L75.4,212.2 L76.4,211.9 L77.5,211.6 L78.5,211.3 L79.5,211.0 L80.5,210.6 L81.6,210.3 L82.6,210.0 L83.6,209.6 L84.7,209.3 L85.7,208.9 L86.7,208.5 L87.8,208.2 L88.8,207.8 L89.8,207.4 L90.8,207.0 L91.9,206.6 L92.9,206.2 L93.9,205.8 L95.0,205.4 L96.0,205.0 L97.0,204.6 L98.0,204.2 L99.1,203.8 L100.1,203.4 L101.1,203.0 L102.2,202.6 L103.2,202.1 L104.2,201.7 L105.2,201.3 L106.3,200.9 L107.3,200.4 L108.3,200.0 L109.4,199.6 L110.4,199.1 L111.4,198.7 L112.4,198.3 L113.5,197.8 L114.5,197.4 L115.5,197.0 L116.6,196.5 L117.6,196.1 L118.6,195.7 L119.6,195.2 L120.7,194.8 L121.7,194.3 L122.7,193.9 L123.8,193.5 L124.8,193.0 L125.8,192.6 L126.8,192.1 L127.9,191.7 L128.9,191.2 L129.9,190.8 L131.0,190.4 L132.0,189.9 L133.0,189.5 L134.0,189.0 L135.1,188.6 L136.1,188.1 L137.1,187.7 L138.2,187.3 L139.2,186.8 L140.2,186.4 L141.2,185.9 L142.3,185.5 L143.3,185.1 L144.3,184.6 L145.4,184.2 L146.4,183.8 L147.4,183.3 L148.4,182.9 L149.5,182.4 L150.5,182.0 L151.5,181.6 L152.6,181.1 L153.6,180.7 L154.6,180.3 L155.6,179.9 L156.7,179.4 L157.7,179.0 L158.7,178.6 L159.8,178.1 L160.8,177.7 L161.8,177.3 L162.9,176.9 L163.9,176.4 L164.9,176.0 L165.9,175.6 L167.0,175.2 L168.0,174.7 L169.0,174.3 L170.1,173.9 L171.1,173.4 L172.1,173.0 L173.1,172.6 L174.2,172.2 L175.2,171.7 L176.2,171.3 L177.3,170.9 L178.3,170.4 L179.3,170.0 L180.3,169.6 L181.4,169.1 L182.4,168.7 L183.4,168.3 L184.5,167.8 L185.5,167.4 L186.5,167.0 L187.5,166.5 L188.6,166.1 L189.6,165.7 L190.6,165.2 L191.7,164.8 L192.7,164.4 L193.7,163.9 L194.7,163.5 L195.8,163.1 L196.8,162.6 L197.8,162.2 L198.9,161.8 L199.9,161.3 L200.9,160.9 L201.9,160.5 L203.0,160.1 L204.0,159.6 L205.0,159.2 L206.1,158.8 L207.1,158.3 L208.1,157.9 L209.1,157.5 L210.2,157.1 L211.2,156.7 L212.2,156.2 L213.3,155.8 L214.3,155.4 L215.3,155.0 L216.3,154.5 L217.4,154.1 L218.4,153.7 L219.4,153.3 L220.5,152.8 L221.5,152.4 L222.5,152.0 L223.5,151.6 L224.6,151.1 L225.6,150.7 L226.6,150.3 L227.7,149.8 L228.7,149.4 L229.7,149.0 L230.7,148.5 L231.8,148.1 L232.8,147.6 L233.8,147.2 L234.9,146.7 L235.9,146.3 L236.9,145.8 L237.9,145.4 L239.0,144.9 L240.0,144.5 L241.0,144.0 L242.1,143.6 L243.1,143.1 L244.1,142.6 L245.2,142.2 L246.2,141.7 L247.2,141.2 L248.2,140.8 L249.3,140.3 L250.3,139.8 L251.3,139.4 L252.4,138.9 L253.4,138.4 L254.4,137.9 L255.4,137.5 L256.5,137.0 L257.5,136.5 L258.5,136.1 L259.6,135.6 L260.6,135.1 L261.6,134.7 L262.6,134.2 L263.7,133.7 L264.7,133.3 L265.7,132.8 L266.8,132.3 L267.8,131.9 L268.8,131.4 L269.8,130.9 L270.9,130.4 L271.9,129.9 L272.9,129.5 L274.0,129.0 L275.0,128.5 L276.0,128.0 L277.0,127.5 L278.1,127.0 L279.1,126.4 L280.1,125.9 L281.2,125.4 L282.2,124.8 L283.2,124.3 L284.2,123.7 L285.3,123.1 L286.3,122.6 L287.3,122.0 L288.4,121.4 L289.4,120.7 L290.4,120.1 L291.4,119.5 L292.5,118.8 L293.5,118.1 L294.5,117.5 L295.6,116.8 L296.6,116.1 L297.6,115.3 L298.6,114.6 L299.7,113.9 L300.7,113.1 L301.7,112.3 L302.8,111.5 L303.8,110.7 L304.8,109.8 L305.8,109.0 L306.9,108.1 L307.9,107.2 L308.9,106.3 L310.0,105.4 L311.0,104.4 L312.0,103.5 L313.0,102.5 L314.1,101.5 L315.1,100.4 L316.1,99.4 L317.2,98.3 L318.2,97.2 L319.2,96.1 L320.3,95.0 L321.3,93.8 L322.3,92.6 L323.3,91.4 L324.4,90.2 L325.4,88.9 L326.4,87.7 L327.5,86.4 L328.5,85.1 L329.5,83.8 L330.5,82.5 L331.6,81.1 L332.6,79.7 L333.6,78.4 L334.7,77.0 L335.7,75.6 L336.7,74.2 L337.7,72.7 L338.8,71.3 L339.8,69.8 L340.8,68.4 L341.9,66.9 L342.9,65.4 L343.9,63.9 L344.9,62.4 L346.0,60.9 L347.0,59.4 L348.0,57.9 L349.1,56.3 L350.1,54.8 L351.1,53.2 L352.1,51.7 L353.2,50.1 L354.2,48.5" stroke="#12b06a" stroke-width="1.8"/>
<path d="M46.6,216.8 L47.7,216.8 L48.9,216.8 L50.0,216.7 L51.1,216.7 L52.2,216.6 L53.4,216.6 L54.5,216.5 L55.6,216.4 L56.7,216.3 L57.9,216.3 L59.0,216.2 L60.1,216.0 L61.2,215.9 L62.4,215.8 L63.5,215.7 L64.6,215.5 L65.7,215.4 L66.9,215.2 L68.0,215.1 L69.1,214.9 L70.2,214.7 L71.4,214.5 L72.5,214.3 L73.6,214.1 L74.7,213.9 L75.9,213.7 L77.0,213.4 L78.1,213.2 L79.2,213.0 L80.4,212.7 L81.5,212.5 L82.6,212.2 L83.7,211.9 L84.9,211.7 L86.0,211.4 L87.1,211.1 L88.2,210.8 L89.4,210.5 L90.5,210.2 L91.6,209.9 L92.7,209.6 L93.9,209.3 L95.0,209.0 L96.1,208.7 L97.2,208.4 L98.4,208.0 L99.5,207.7 L100.6,207.4 L101.7,207.0 L102.9,206.7 L104.0,206.4 L105.1,206.0 L106.2,205.7 L107.4,205.3 L108.5,204.9 L109.6,204.6 L110.7,204.2 L111.9,203.8 L113.0,203.5 L114.1,203.1 L115.2,202.7 L116.4,202.3 L117.5,202.0 L118.6,201.6 L119.7,201.2 L120.9,200.8 L122.0,200.4 L123.1,200.0 L124.2,199.6 L125.4,199.2 L126.5,198.8 L127.6,198.4 L128.7,198.0 L129.9,197.5 L131.0,197.1 L132.1,196.7 L133.2,196.3 L134.4,195.8 L135.5,195.4 L136.6,195.0 L137.7,194.6 L138.9,194.1 L140.0,193.7 L141.1,193.3 L142.2,192.8 L143.4,192.4 L144.5,192.0 L145.6,191.5 L146.7,191.1 L147.9,190.7 L149.0,190.2 L150.1,189.8 L151.2,189.4 L152.4,188.9 L153.5,188.5 L154.6,188.1 L155.7,187.6 L156.9,187.2 L158.0,186.8 L159.1,186.4 L160.2,185.9 L161.4,185.5 L162.5,185.1 L163.6,184.6 L164.7,184.2 L165.9,183.8 L167.0,183.4 L168.1,182.9 L169.2,182.5 L170.4,182.1 L171.5,181.6 L172.6,181.2 L173.7,180.8 L174.9,180.3 L176.0,179.9 L177.1,179.5 L178.2,179.0 L179.4,178.6 L180.5,178.1 L181.6,177.7 L182.7,177.2 L183.9,176.8 L185.0,176.3 L186.1,175.9 L187.2,175.4 L188.4,175.0 L189.5,174.5 L190.6,174.1 L191.7,173.6 L192.9,173.2 L194.0,172.7 L195.1,172.3 L196.2,171.8 L197.4,171.4 L198.5,170.9 L199.6,170.5 L200.7,170.0 L201.9,169.6 L203.0,169.1 L204.1,168.7 L205.2,168.3 L206.4,167.8 L207.5,167.4 L208.6,166.9 L209.7,166.5 L210.9,166.0 L212.0,165.6 L213.1,165.1 L214.2,164.7 L215.4,164.3 L216.5,163.8 L217.6,163.4 L218.7,163.0 L219.9,162.5 L221.0,162.1 L222.1,161.6 L223.2,161.2 L224.4,160.8 L225.5,160.3 L226.6,159.9 L227.7,159.5 L228.9,159.0 L230.0,158.6 L231.1,158.1 L232.2,157.7 L233.4,157.3 L234.5,156.8 L235.6,156.4 L236.7,155.9 L237.9,155.5 L239.0,155.1 L240.1,154.6 L241.2,154.2 L242.4,153.7 L243.5,153.3 L244.6,152.8 L245.7,152.4 L246.9,151.9 L248.0,151.5 L249.1,151.0 L250.2,150.6 L251.4,150.1 L252.5,149.7 L253.6,149.2 L254.7,148.8 L255.9,148.3 L257.0,147.9 L258.1,147.4 L259.2,146.9 L260.4,146.5 L261.5,146.0 L262.6,145.6 L263.7,145.1 L264.9,144.6 L266.0,144.2 L267.1,143.7 L268.2,143.3 L269.4,142.8 L270.5,142.3 L271.6,141.9 L272.7,141.4 L273.9,140.9 L275.0,140.4 L276.1,139.9 L277.2,139.5 L278.4,139.0 L279.5,138.5 L280.6,138.0 L281.7,137.5 L282.9,137.0 L284.0,136.5 L285.1,136.0 L286.2,135.5 L287.4,135.0 L288.5,134.5 L289.6,134.0 L290.7,133.5 L291.9,132.9 L293.0,132.4 L294.1,131.9 L295.2,131.4 L296.4,130.8 L297.5,130.3 L298.6,129.8 L299.7,129.2 L300.9,128.7 L302.0,128.1 L303.1,127.6 L304.2,127.0 L305.4,126.5 L306.5,125.9 L307.6,125.3 L308.7,124.8 L309.9,124.2 L311.0,123.6 L312.1,123.0 L313.2,122.5 L314.4,121.9 L315.5,121.3 L316.6,120.7 L317.7,120.1 L318.9,119.5 L320.0,118.9 L321.1,118.3 L322.2,117.7 L323.4,117.0 L324.5,116.4 L325.6,115.8 L326.7,115.1 L327.9,114.5 L329.0,113.9 L330.1,113.2 L331.2,112.6 L332.4,111.9 L333.5,111.2 L334.6,110.5 L335.7,109.9 L336.9,109.2 L338.0,108.5 L339.1,107.8 L340.2,107.1 L341.4,106.3 L342.5,105.6 L343.6,104.9 L344.7,104.2 L345.9,103.4 L347.0,102.6 L348.1,101.9 L349.2,101.1 L350.4,100.3 L351.5,99.6 L352.6,98.8 L353.7,98.0 L354.9,97.1 L356.0,96.3 L357.1,95.5 L358.2,94.6 L359.4,93.8 L360.5,92.9 L361.6,92.1 L362.7,91.2 L363.9,90.3 L365.0,89.4 L366.1,88.5 L367.2,87.6 L368.4,86.7 L369.5,85.8 L370.6,84.8 L371.7,83.9 L372.9,82.9 L374.0,82.0 L375.1,81.0 L376.2,80.0 L377.4,79.0 L378.5,78.0 L379.6,77.0 L380.7,76.0 L381.9,75.0 L383.0,73.9" stroke="#e1a81b" stroke-width="1.8"/>
</g>
<rect x="46.5" y="29.55" width="335.4" height="197.79999999999998" fill="none" stroke="#000" stroke-width="1"/>
<text transform="matrix(0.1652,0,0,0.1675,42.07,242.44)" font-size="100"  >0</text>
<text transform="matrix(0.1807,0,0,0.1664,90.96,242.36)" font-size="100"  >0.2</text>
<text transform="matrix(0.1747,0,0,0.1664,146.88,242.36)" font-size="100"  >0.4</text>
<text transform="matrix(0.1768,0,0,0.1664,202.78,242.36)" font-size="100"  >0.6</text>
<text transform="matrix(0.1780,0,0,0.1664,258.67,242.36)" font-size="100"  >0.8</text>
<text transform="matrix(0.1733,0,0,0.1712,321.13,242.60)" font-size="100"  >1</text>
<text transform="matrix(0.1825,0,0,0.1671,369.90,242.36)" font-size="100"  >1.2</text>
<text transform="matrix(0.1840,0,0,0.1793,33.90,222.77)" font-size="100"  >0</text>
<text transform="matrix(0.1721,0,0,0.1793,25.84,181.11)" font-size="100"  >20</text>
<text transform="matrix(0.1677,0,0,0.1793,26.27,139.45)" font-size="100"  >40</text>
<text transform="matrix(0.1719,0,0,0.1793,25.86,97.79)" font-size="100"  >60</text>
<text transform="matrix(0.1710,0,0,0.1793,25.95,56.13)" font-size="100"  >80</text>
<text transform="matrix(0.1770,0,0,0.1762,51.38,16.63)" font-size="100" font-weight="bold" >b</text>
<text transform="matrix(0.1713,0,0,0.2095,63.25,16.54)" font-size="100" font-weight="bold" >)</text>
<text transform="matrix(0.1892,0,0,0.1805,76.52,16.72)" font-size="100"  >Crack</text>
<text transform="matrix(0.1981,0,0,0.1777,128.25,16.77)" font-size="100"  >opening</text>
<text transform="matrix(0.1920,0,0,0.1831,196.81,16.90)" font-size="100"  >displacement</text>
<text transform="matrix(0,-0.1805,0.2011,0,20.10,153.53)" font-size="100" font-style="italic" >δ</text>
<text transform="matrix(0,-0.1968,0.1918,0,20.20,138.51)" font-size="100"  >in</text>
<text transform="matrix(0,-0.1787,0.2110,0,20.10,116.97)" font-size="100"  >Å</text>
<text transform="matrix(0.1732,0,0,0.1848,156.60,263.40)" font-size="100" font-style="italic" >K</text>
<path d="M170.8,257.2h5.1v0.8h-5.1z M170.8,264.7h5.1v0.8h-5.1z M172.7,257.2h1.3v8.3h-1.3z" fill="#000"/>
<text transform="matrix(0.1968,0,0,0.1676,183.19,263.40)" font-size="100"  >in</text>
<text transform="matrix(0.1914,0,0,0.1806,204.50,263.52)" font-size="100"  >MPa</text>
<text transform="matrix(0.1983,0,0,0.1613,256.88,263.70)" font-size="100"  >m</text>
<path d="M241.6,260.1 L243.6,258.9" fill="none" stroke="#000" stroke-width="0.8"/><path d="M243.4,258.9 L248.3,265.3" fill="none" stroke="#000" stroke-width="1.6"/><path d="M248.3,265.9 L252.9,249.7 L272.3,249.7" fill="none" stroke="#000" stroke-width="0.9"/>
</svg></body></html>
